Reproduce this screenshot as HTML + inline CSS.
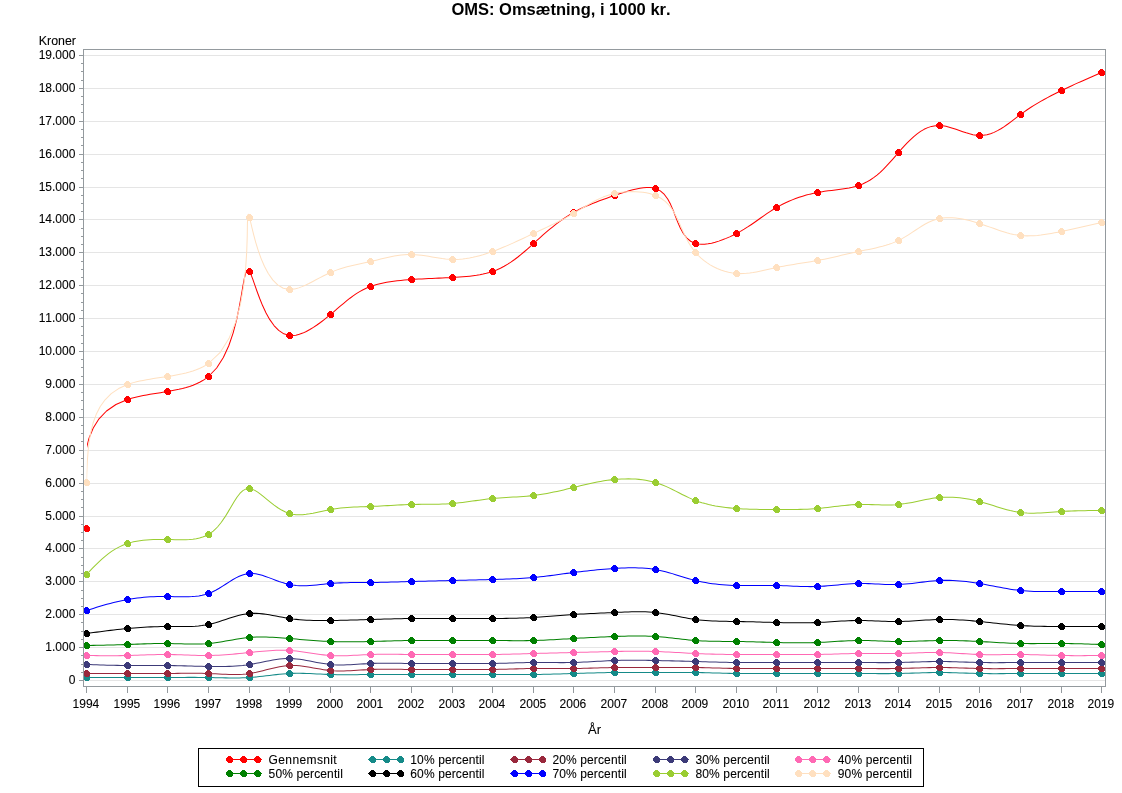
<!DOCTYPE html>
<html><head><meta charset="utf-8"><title>OMS: Omsætning</title>
<style>html,body{margin:0;padding:0;background:#fff;width:1122px;height:793px;overflow:hidden;position:relative;font-family:"Liberation Sans",sans-serif}</style>
</head><body>
<svg width="1122" height="793" viewBox="0 0 1122 793" style="position:absolute;left:0;top:0;will-change:transform;font-kerning:none">
<defs><clipPath id="pc"><rect x="84" y="50" width="1021" height="636"/></clipPath><clipPath id="lc"><rect x="86.5" y="50" width="1015" height="636"/></clipPath><clipPath id="lcr"><rect x="87" y="50" width="1014.5" height="636"/></clipPath></defs>
<text x="561" y="15" text-anchor="middle" font-family="Liberation Sans" font-weight="bold" font-size="16.5" fill="#000">OMS: Omsætning, i 1000 kr.</text>
<line x1="84" y1="680.5" x2="1105" y2="680.5" stroke="#e5e5e5" stroke-width="1"/>
<line x1="84" y1="647.5" x2="1105" y2="647.5" stroke="#e5e5e5" stroke-width="1"/>
<line x1="84" y1="614.5" x2="1105" y2="614.5" stroke="#e5e5e5" stroke-width="1"/>
<line x1="84" y1="581.5" x2="1105" y2="581.5" stroke="#e5e5e5" stroke-width="1"/>
<line x1="84" y1="548.5" x2="1105" y2="548.5" stroke="#e5e5e5" stroke-width="1"/>
<line x1="84" y1="516.5" x2="1105" y2="516.5" stroke="#e5e5e5" stroke-width="1"/>
<line x1="84" y1="483.5" x2="1105" y2="483.5" stroke="#e5e5e5" stroke-width="1"/>
<line x1="84" y1="450.5" x2="1105" y2="450.5" stroke="#e5e5e5" stroke-width="1"/>
<line x1="84" y1="417.5" x2="1105" y2="417.5" stroke="#e5e5e5" stroke-width="1"/>
<line x1="84" y1="384.5" x2="1105" y2="384.5" stroke="#e5e5e5" stroke-width="1"/>
<line x1="84" y1="351.5" x2="1105" y2="351.5" stroke="#e5e5e5" stroke-width="1"/>
<line x1="84" y1="318.5" x2="1105" y2="318.5" stroke="#e5e5e5" stroke-width="1"/>
<line x1="84" y1="285.5" x2="1105" y2="285.5" stroke="#e5e5e5" stroke-width="1"/>
<line x1="84" y1="252.5" x2="1105" y2="252.5" stroke="#e5e5e5" stroke-width="1"/>
<line x1="84" y1="219.5" x2="1105" y2="219.5" stroke="#e5e5e5" stroke-width="1"/>
<line x1="84" y1="187.5" x2="1105" y2="187.5" stroke="#e5e5e5" stroke-width="1"/>
<line x1="84" y1="154.5" x2="1105" y2="154.5" stroke="#e5e5e5" stroke-width="1"/>
<line x1="84" y1="121.5" x2="1105" y2="121.5" stroke="#e5e5e5" stroke-width="1"/>
<line x1="84" y1="88.5" x2="1105" y2="88.5" stroke="#e5e5e5" stroke-width="1"/>
<line x1="84" y1="55.5" x2="1105" y2="55.5" stroke="#e5e5e5" stroke-width="1"/>
<line x1="79" y1="680.5" x2="83" y2="680.5" stroke="#949a9e" stroke-width="1"/>
<text x="75.4" y="683.6" text-anchor="end" font-family="Liberation Sans" font-size="12" fill="#000" stroke="#000" stroke-width="0.1">0</text>
<line x1="81" y1="672.5" x2="83" y2="672.5" stroke="#949a9e" stroke-width="1"/>
<line x1="81" y1="664.5" x2="83" y2="664.5" stroke="#949a9e" stroke-width="1"/>
<line x1="81" y1="655.5" x2="83" y2="655.5" stroke="#949a9e" stroke-width="1"/>
<line x1="79" y1="647.5" x2="83" y2="647.5" stroke="#949a9e" stroke-width="1"/>
<text x="75.4" y="650.6" text-anchor="end" font-family="Liberation Sans" font-size="12" fill="#000" stroke="#000" stroke-width="0.1">1.000</text>
<line x1="81" y1="639.5" x2="83" y2="639.5" stroke="#949a9e" stroke-width="1"/>
<line x1="81" y1="631.5" x2="83" y2="631.5" stroke="#949a9e" stroke-width="1"/>
<line x1="81" y1="622.5" x2="83" y2="622.5" stroke="#949a9e" stroke-width="1"/>
<line x1="79" y1="614.5" x2="83" y2="614.5" stroke="#949a9e" stroke-width="1"/>
<text x="75.4" y="617.6" text-anchor="end" font-family="Liberation Sans" font-size="12" fill="#000" stroke="#000" stroke-width="0.1">2.000</text>
<line x1="81" y1="606.5" x2="83" y2="606.5" stroke="#949a9e" stroke-width="1"/>
<line x1="81" y1="598.5" x2="83" y2="598.5" stroke="#949a9e" stroke-width="1"/>
<line x1="81" y1="590.5" x2="83" y2="590.5" stroke="#949a9e" stroke-width="1"/>
<line x1="79" y1="581.5" x2="83" y2="581.5" stroke="#949a9e" stroke-width="1"/>
<text x="75.4" y="584.6" text-anchor="end" font-family="Liberation Sans" font-size="12" fill="#000" stroke="#000" stroke-width="0.1">3.000</text>
<line x1="81" y1="573.5" x2="83" y2="573.5" stroke="#949a9e" stroke-width="1"/>
<line x1="81" y1="565.5" x2="83" y2="565.5" stroke="#949a9e" stroke-width="1"/>
<line x1="81" y1="557.5" x2="83" y2="557.5" stroke="#949a9e" stroke-width="1"/>
<line x1="79" y1="548.5" x2="83" y2="548.5" stroke="#949a9e" stroke-width="1"/>
<text x="75.4" y="551.6" text-anchor="end" font-family="Liberation Sans" font-size="12" fill="#000" stroke="#000" stroke-width="0.1">4.000</text>
<line x1="81" y1="540.5" x2="83" y2="540.5" stroke="#949a9e" stroke-width="1"/>
<line x1="81" y1="532.5" x2="83" y2="532.5" stroke="#949a9e" stroke-width="1"/>
<line x1="81" y1="524.5" x2="83" y2="524.5" stroke="#949a9e" stroke-width="1"/>
<line x1="79" y1="516.5" x2="83" y2="516.5" stroke="#949a9e" stroke-width="1"/>
<text x="75.4" y="519.6" text-anchor="end" font-family="Liberation Sans" font-size="12" fill="#000" stroke="#000" stroke-width="0.1">5.000</text>
<line x1="81" y1="507.5" x2="83" y2="507.5" stroke="#949a9e" stroke-width="1"/>
<line x1="81" y1="499.5" x2="83" y2="499.5" stroke="#949a9e" stroke-width="1"/>
<line x1="81" y1="491.5" x2="83" y2="491.5" stroke="#949a9e" stroke-width="1"/>
<line x1="79" y1="483.5" x2="83" y2="483.5" stroke="#949a9e" stroke-width="1"/>
<text x="75.4" y="486.6" text-anchor="end" font-family="Liberation Sans" font-size="12" fill="#000" stroke="#000" stroke-width="0.1">6.000</text>
<line x1="81" y1="474.5" x2="83" y2="474.5" stroke="#949a9e" stroke-width="1"/>
<line x1="81" y1="466.5" x2="83" y2="466.5" stroke="#949a9e" stroke-width="1"/>
<line x1="81" y1="458.5" x2="83" y2="458.5" stroke="#949a9e" stroke-width="1"/>
<line x1="79" y1="450.5" x2="83" y2="450.5" stroke="#949a9e" stroke-width="1"/>
<text x="75.4" y="453.6" text-anchor="end" font-family="Liberation Sans" font-size="12" fill="#000" stroke="#000" stroke-width="0.1">7.000</text>
<line x1="81" y1="441.5" x2="83" y2="441.5" stroke="#949a9e" stroke-width="1"/>
<line x1="81" y1="433.5" x2="83" y2="433.5" stroke="#949a9e" stroke-width="1"/>
<line x1="81" y1="425.5" x2="83" y2="425.5" stroke="#949a9e" stroke-width="1"/>
<line x1="79" y1="417.5" x2="83" y2="417.5" stroke="#949a9e" stroke-width="1"/>
<text x="75.4" y="420.6" text-anchor="end" font-family="Liberation Sans" font-size="12" fill="#000" stroke="#000" stroke-width="0.1">8.000</text>
<line x1="81" y1="409.5" x2="83" y2="409.5" stroke="#949a9e" stroke-width="1"/>
<line x1="81" y1="400.5" x2="83" y2="400.5" stroke="#949a9e" stroke-width="1"/>
<line x1="81" y1="392.5" x2="83" y2="392.5" stroke="#949a9e" stroke-width="1"/>
<line x1="79" y1="384.5" x2="83" y2="384.5" stroke="#949a9e" stroke-width="1"/>
<text x="75.4" y="387.6" text-anchor="end" font-family="Liberation Sans" font-size="12" fill="#000" stroke="#000" stroke-width="0.1">9.000</text>
<line x1="81" y1="376.5" x2="83" y2="376.5" stroke="#949a9e" stroke-width="1"/>
<line x1="81" y1="367.5" x2="83" y2="367.5" stroke="#949a9e" stroke-width="1"/>
<line x1="81" y1="359.5" x2="83" y2="359.5" stroke="#949a9e" stroke-width="1"/>
<line x1="79" y1="351.5" x2="83" y2="351.5" stroke="#949a9e" stroke-width="1"/>
<text x="75.4" y="354.6" text-anchor="end" font-family="Liberation Sans" font-size="12" fill="#000" stroke="#000" stroke-width="0.1">10.000</text>
<line x1="81" y1="343.5" x2="83" y2="343.5" stroke="#949a9e" stroke-width="1"/>
<line x1="81" y1="335.5" x2="83" y2="335.5" stroke="#949a9e" stroke-width="1"/>
<line x1="81" y1="326.5" x2="83" y2="326.5" stroke="#949a9e" stroke-width="1"/>
<line x1="79" y1="318.5" x2="83" y2="318.5" stroke="#949a9e" stroke-width="1"/>
<text x="75.4" y="321.6" text-anchor="end" font-family="Liberation Sans" font-size="12" fill="#000" stroke="#000" stroke-width="0.1">11.000</text>
<line x1="81" y1="310.5" x2="83" y2="310.5" stroke="#949a9e" stroke-width="1"/>
<line x1="81" y1="302.5" x2="83" y2="302.5" stroke="#949a9e" stroke-width="1"/>
<line x1="81" y1="293.5" x2="83" y2="293.5" stroke="#949a9e" stroke-width="1"/>
<line x1="79" y1="285.5" x2="83" y2="285.5" stroke="#949a9e" stroke-width="1"/>
<text x="75.4" y="288.6" text-anchor="end" font-family="Liberation Sans" font-size="12" fill="#000" stroke="#000" stroke-width="0.1">12.000</text>
<line x1="81" y1="277.5" x2="83" y2="277.5" stroke="#949a9e" stroke-width="1"/>
<line x1="81" y1="269.5" x2="83" y2="269.5" stroke="#949a9e" stroke-width="1"/>
<line x1="81" y1="261.5" x2="83" y2="261.5" stroke="#949a9e" stroke-width="1"/>
<line x1="79" y1="252.5" x2="83" y2="252.5" stroke="#949a9e" stroke-width="1"/>
<text x="75.4" y="255.6" text-anchor="end" font-family="Liberation Sans" font-size="12" fill="#000" stroke="#000" stroke-width="0.1">13.000</text>
<line x1="81" y1="244.5" x2="83" y2="244.5" stroke="#949a9e" stroke-width="1"/>
<line x1="81" y1="236.5" x2="83" y2="236.5" stroke="#949a9e" stroke-width="1"/>
<line x1="81" y1="228.5" x2="83" y2="228.5" stroke="#949a9e" stroke-width="1"/>
<line x1="79" y1="219.5" x2="83" y2="219.5" stroke="#949a9e" stroke-width="1"/>
<text x="75.4" y="222.6" text-anchor="end" font-family="Liberation Sans" font-size="12" fill="#000" stroke="#000" stroke-width="0.1">14.000</text>
<line x1="81" y1="211.5" x2="83" y2="211.5" stroke="#949a9e" stroke-width="1"/>
<line x1="81" y1="203.5" x2="83" y2="203.5" stroke="#949a9e" stroke-width="1"/>
<line x1="81" y1="195.5" x2="83" y2="195.5" stroke="#949a9e" stroke-width="1"/>
<line x1="79" y1="187.5" x2="83" y2="187.5" stroke="#949a9e" stroke-width="1"/>
<text x="75.4" y="190.6" text-anchor="end" font-family="Liberation Sans" font-size="12" fill="#000" stroke="#000" stroke-width="0.1">15.000</text>
<line x1="81" y1="178.5" x2="83" y2="178.5" stroke="#949a9e" stroke-width="1"/>
<line x1="81" y1="170.5" x2="83" y2="170.5" stroke="#949a9e" stroke-width="1"/>
<line x1="81" y1="162.5" x2="83" y2="162.5" stroke="#949a9e" stroke-width="1"/>
<line x1="79" y1="154.5" x2="83" y2="154.5" stroke="#949a9e" stroke-width="1"/>
<text x="75.4" y="157.6" text-anchor="end" font-family="Liberation Sans" font-size="12" fill="#000" stroke="#000" stroke-width="0.1">16.000</text>
<line x1="81" y1="145.5" x2="83" y2="145.5" stroke="#949a9e" stroke-width="1"/>
<line x1="81" y1="137.5" x2="83" y2="137.5" stroke="#949a9e" stroke-width="1"/>
<line x1="81" y1="129.5" x2="83" y2="129.5" stroke="#949a9e" stroke-width="1"/>
<line x1="79" y1="121.5" x2="83" y2="121.5" stroke="#949a9e" stroke-width="1"/>
<text x="75.4" y="124.6" text-anchor="end" font-family="Liberation Sans" font-size="12" fill="#000" stroke="#000" stroke-width="0.1">17.000</text>
<line x1="81" y1="112.5" x2="83" y2="112.5" stroke="#949a9e" stroke-width="1"/>
<line x1="81" y1="104.5" x2="83" y2="104.5" stroke="#949a9e" stroke-width="1"/>
<line x1="81" y1="96.5" x2="83" y2="96.5" stroke="#949a9e" stroke-width="1"/>
<line x1="79" y1="88.5" x2="83" y2="88.5" stroke="#949a9e" stroke-width="1"/>
<text x="75.4" y="91.6" text-anchor="end" font-family="Liberation Sans" font-size="12" fill="#000" stroke="#000" stroke-width="0.1">18.000</text>
<line x1="81" y1="80.5" x2="83" y2="80.5" stroke="#949a9e" stroke-width="1"/>
<line x1="81" y1="71.5" x2="83" y2="71.5" stroke="#949a9e" stroke-width="1"/>
<line x1="81" y1="63.5" x2="83" y2="63.5" stroke="#949a9e" stroke-width="1"/>
<line x1="79" y1="55.5" x2="83" y2="55.5" stroke="#949a9e" stroke-width="1"/>
<text x="75.4" y="58.6" text-anchor="end" font-family="Liberation Sans" font-size="12" fill="#000" stroke="#000" stroke-width="0.1">19.000</text>
<line x1="86.5" y1="687" x2="86.5" y2="693" stroke="#949a9e" stroke-width="1"/>
<text x="85.9" y="708" text-anchor="middle" font-family="Liberation Sans" font-size="12" fill="#000" stroke="#000" stroke-width="0.1">1994</text>
<line x1="127.5" y1="687" x2="127.5" y2="693" stroke="#949a9e" stroke-width="1"/>
<text x="126.9" y="708" text-anchor="middle" font-family="Liberation Sans" font-size="12" fill="#000" stroke="#000" stroke-width="0.1">1995</text>
<line x1="167.5" y1="687" x2="167.5" y2="693" stroke="#949a9e" stroke-width="1"/>
<text x="166.9" y="708" text-anchor="middle" font-family="Liberation Sans" font-size="12" fill="#000" stroke="#000" stroke-width="0.1">1996</text>
<line x1="208.5" y1="687" x2="208.5" y2="693" stroke="#949a9e" stroke-width="1"/>
<text x="207.9" y="708" text-anchor="middle" font-family="Liberation Sans" font-size="12" fill="#000" stroke="#000" stroke-width="0.1">1997</text>
<line x1="249.5" y1="687" x2="249.5" y2="693" stroke="#949a9e" stroke-width="1"/>
<text x="248.9" y="708" text-anchor="middle" font-family="Liberation Sans" font-size="12" fill="#000" stroke="#000" stroke-width="0.1">1998</text>
<line x1="289.5" y1="687" x2="289.5" y2="693" stroke="#949a9e" stroke-width="1"/>
<text x="288.9" y="708" text-anchor="middle" font-family="Liberation Sans" font-size="12" fill="#000" stroke="#000" stroke-width="0.1">1999</text>
<line x1="330.5" y1="687" x2="330.5" y2="693" stroke="#949a9e" stroke-width="1"/>
<text x="329.9" y="708" text-anchor="middle" font-family="Liberation Sans" font-size="12" fill="#000" stroke="#000" stroke-width="0.1">2000</text>
<line x1="370.5" y1="687" x2="370.5" y2="693" stroke="#949a9e" stroke-width="1"/>
<text x="369.9" y="708" text-anchor="middle" font-family="Liberation Sans" font-size="12" fill="#000" stroke="#000" stroke-width="0.1">2001</text>
<line x1="411.5" y1="687" x2="411.5" y2="693" stroke="#949a9e" stroke-width="1"/>
<text x="410.9" y="708" text-anchor="middle" font-family="Liberation Sans" font-size="12" fill="#000" stroke="#000" stroke-width="0.1">2002</text>
<line x1="452.5" y1="687" x2="452.5" y2="693" stroke="#949a9e" stroke-width="1"/>
<text x="451.9" y="708" text-anchor="middle" font-family="Liberation Sans" font-size="12" fill="#000" stroke="#000" stroke-width="0.1">2003</text>
<line x1="492.5" y1="687" x2="492.5" y2="693" stroke="#949a9e" stroke-width="1"/>
<text x="491.9" y="708" text-anchor="middle" font-family="Liberation Sans" font-size="12" fill="#000" stroke="#000" stroke-width="0.1">2004</text>
<line x1="533.5" y1="687" x2="533.5" y2="693" stroke="#949a9e" stroke-width="1"/>
<text x="532.9" y="708" text-anchor="middle" font-family="Liberation Sans" font-size="12" fill="#000" stroke="#000" stroke-width="0.1">2005</text>
<line x1="573.5" y1="687" x2="573.5" y2="693" stroke="#949a9e" stroke-width="1"/>
<text x="572.9" y="708" text-anchor="middle" font-family="Liberation Sans" font-size="12" fill="#000" stroke="#000" stroke-width="0.1">2006</text>
<line x1="614.5" y1="687" x2="614.5" y2="693" stroke="#949a9e" stroke-width="1"/>
<text x="613.9" y="708" text-anchor="middle" font-family="Liberation Sans" font-size="12" fill="#000" stroke="#000" stroke-width="0.1">2007</text>
<line x1="655.5" y1="687" x2="655.5" y2="693" stroke="#949a9e" stroke-width="1"/>
<text x="654.9" y="708" text-anchor="middle" font-family="Liberation Sans" font-size="12" fill="#000" stroke="#000" stroke-width="0.1">2008</text>
<line x1="695.5" y1="687" x2="695.5" y2="693" stroke="#949a9e" stroke-width="1"/>
<text x="694.9" y="708" text-anchor="middle" font-family="Liberation Sans" font-size="12" fill="#000" stroke="#000" stroke-width="0.1">2009</text>
<line x1="736.5" y1="687" x2="736.5" y2="693" stroke="#949a9e" stroke-width="1"/>
<text x="735.9" y="708" text-anchor="middle" font-family="Liberation Sans" font-size="12" fill="#000" stroke="#000" stroke-width="0.1">2010</text>
<line x1="776.5" y1="687" x2="776.5" y2="693" stroke="#949a9e" stroke-width="1"/>
<text x="775.9" y="708" text-anchor="middle" font-family="Liberation Sans" font-size="12" fill="#000" stroke="#000" stroke-width="0.1">2011</text>
<line x1="817.5" y1="687" x2="817.5" y2="693" stroke="#949a9e" stroke-width="1"/>
<text x="816.9" y="708" text-anchor="middle" font-family="Liberation Sans" font-size="12" fill="#000" stroke="#000" stroke-width="0.1">2012</text>
<line x1="858.5" y1="687" x2="858.5" y2="693" stroke="#949a9e" stroke-width="1"/>
<text x="857.9" y="708" text-anchor="middle" font-family="Liberation Sans" font-size="12" fill="#000" stroke="#000" stroke-width="0.1">2013</text>
<line x1="898.5" y1="687" x2="898.5" y2="693" stroke="#949a9e" stroke-width="1"/>
<text x="897.9" y="708" text-anchor="middle" font-family="Liberation Sans" font-size="12" fill="#000" stroke="#000" stroke-width="0.1">2014</text>
<line x1="939.5" y1="687" x2="939.5" y2="693" stroke="#949a9e" stroke-width="1"/>
<text x="938.9" y="708" text-anchor="middle" font-family="Liberation Sans" font-size="12" fill="#000" stroke="#000" stroke-width="0.1">2015</text>
<line x1="979.5" y1="687" x2="979.5" y2="693" stroke="#949a9e" stroke-width="1"/>
<text x="978.9" y="708" text-anchor="middle" font-family="Liberation Sans" font-size="12" fill="#000" stroke="#000" stroke-width="0.1">2016</text>
<line x1="1020.5" y1="687" x2="1020.5" y2="693" stroke="#949a9e" stroke-width="1"/>
<text x="1019.9" y="708" text-anchor="middle" font-family="Liberation Sans" font-size="12" fill="#000" stroke="#000" stroke-width="0.1">2017</text>
<line x1="1061.5" y1="687" x2="1061.5" y2="693" stroke="#949a9e" stroke-width="1"/>
<text x="1060.9" y="708" text-anchor="middle" font-family="Liberation Sans" font-size="12" fill="#000" stroke="#000" stroke-width="0.1">2018</text>
<line x1="1101.5" y1="687" x2="1101.5" y2="693" stroke="#949a9e" stroke-width="1"/>
<text x="1100.9" y="708" text-anchor="middle" font-family="Liberation Sans" font-size="12" fill="#000" stroke="#000" stroke-width="0.1">2019</text>
<text x="594.5" y="734" text-anchor="middle" font-family="Liberation Sans" font-size="13" fill="#000" stroke="#000" stroke-width="0.1">År</text>
<text x="76" y="45" text-anchor="end" font-family="Liberation Sans" font-size="13" textLength="37.2" lengthAdjust="spacingAndGlyphs" fill="#000" stroke="#000" stroke-width="0.1">Kroner</text>
<g clip-path="url(#pc)">
<path clip-path="url(#lcr)" d="M86.50,528.50 L85.32,514.50 L84.33,500.63 L83.72,487.04 L83.70,473.85 L84.45,461.21 L86.16,449.26 L89.03,438.12 L93.25,427.94 L99.01,418.85 L106.52,410.99 L115.95,404.49 L127.50,399.50 L130.46,398.58 L133.52,397.74 L136.69,396.96 L139.93,396.25 L143.25,395.58 L146.63,394.95 L150.06,394.35 L153.53,393.78 L157.01,393.21 L160.51,392.65 L164.01,392.08 L167.50,391.50 L171.33,390.82 L175.12,390.10 L178.85,389.32 L182.53,388.45 L186.13,387.48 L189.65,386.40 L193.08,385.18 L196.41,383.81 L199.63,382.28 L202.72,380.56 L205.68,378.64 L208.50,376.50 L216.65,367.99 L223.35,357.54 L228.77,345.71 L233.10,333.09 L236.50,320.23 L239.15,307.71 L241.25,296.09 L242.96,285.95 L244.46,277.85 L245.93,272.36 L247.55,270.05 L249.50,271.50 L251.01,274.61 L252.76,279.18 L254.77,284.91 L257.08,291.48 L259.71,298.55 L262.69,305.82 L266.05,312.96 L269.81,319.65 L274.01,325.56 L278.68,330.39 L283.83,333.81 L289.50,335.50 L292.66,335.60 L295.94,335.20 L299.32,334.35 L302.78,333.09 L306.30,331.48 L309.84,329.56 L313.40,327.39 L316.94,325.02 L320.45,322.50 L323.89,319.87 L327.25,317.19 L330.50,314.50 L333.96,311.58 L337.28,308.72 L340.51,305.95 L343.68,303.27 L346.82,300.69 L349.95,298.22 L353.11,295.89 L356.34,293.69 L359.66,291.64 L363.10,289.75 L366.71,288.03 L370.50,286.50 L373.52,285.46 L376.66,284.53 L379.90,283.70 L383.23,282.96 L386.63,282.31 L390.10,281.73 L393.62,281.22 L397.17,280.78 L400.75,280.39 L404.34,280.06 L407.93,279.76 L411.50,279.50 L414.96,279.27 L418.41,279.07 L421.83,278.89 L425.24,278.72 L428.64,278.56 L432.03,278.42 L435.43,278.27 L438.82,278.13 L442.22,277.99 L445.63,277.84 L449.06,277.68 L452.50,277.50 L455.94,277.31 L459.40,277.09 L462.85,276.83 L466.30,276.54 L469.74,276.18 L473.14,275.77 L476.52,275.29 L479.84,274.73 L483.11,274.07 L486.32,273.32 L489.45,272.47 L492.50,271.50 L496.54,269.97 L500.42,268.23 L504.16,266.29 L507.76,264.18 L511.24,261.91 L514.62,259.52 L517.90,257.01 L521.11,254.41 L524.27,251.74 L527.37,249.02 L530.44,246.26 L533.50,243.50 L536.67,240.64 L539.85,237.80 L543.04,234.98 L546.24,232.21 L549.48,229.48 L552.75,226.81 L556.06,224.21 L559.42,221.68 L562.84,219.24 L566.32,216.88 L569.87,214.64 L573.50,212.50 L576.50,210.86 L579.56,209.29 L582.68,207.78 L585.88,206.32 L589.14,204.91 L592.49,203.53 L595.92,202.18 L599.45,200.84 L603.06,199.52 L606.77,198.19 L610.58,196.85 L614.50,195.50 L618.09,194.27 L621.74,193.06 L625.42,191.89 L629.11,190.79 L632.77,189.79 L636.39,188.94 L639.93,188.26 L643.36,187.77 L646.66,187.52 L649.81,187.54 L652.76,187.86 L655.50,188.50 L660.34,190.86 L664.35,194.46 L667.70,199.04 L670.56,204.36 L673.08,210.16 L675.44,216.21 L677.80,222.24 L680.33,228.01 L683.20,233.27 L686.58,237.77 L690.62,241.26 L695.50,243.50 L698.34,244.08 L701.40,244.31 L704.64,244.21 L708.04,243.81 L711.56,243.15 L715.16,242.24 L718.80,241.13 L722.46,239.84 L726.09,238.40 L729.67,236.85 L733.15,235.20 L736.50,233.50 L740.44,231.34 L744.16,229.15 L747.69,226.94 L751.07,224.71 L754.33,222.47 L757.50,220.24 L760.62,218.02 L763.71,215.83 L766.81,213.67 L769.95,211.56 L773.17,209.50 L776.50,207.50 L779.45,205.85 L782.51,204.25 L785.65,202.72 L788.89,201.26 L792.21,199.86 L795.62,198.55 L799.10,197.31 L802.65,196.16 L806.27,195.10 L809.96,194.13 L813.70,193.26 L817.50,192.50 L821.03,191.89 L824.59,191.35 L828.16,190.86 L831.73,190.40 L835.29,189.96 L838.81,189.51 L842.29,189.02 L845.71,188.49 L849.06,187.90 L852.31,187.21 L855.47,186.42 L858.50,185.50 L862.63,183.93 L866.51,182.08 L870.18,179.97 L873.66,177.62 L876.99,175.05 L880.20,172.27 L883.31,169.31 L886.36,166.19 L889.37,162.93 L892.38,159.55 L895.41,156.06 L898.50,152.50 L901.39,149.19 L904.36,145.89 L907.42,142.65 L910.56,139.52 L913.79,136.57 L917.12,133.85 L920.56,131.42 L924.10,129.32 L927.77,127.63 L931.55,126.39 L935.46,125.66 L939.50,125.50 L942.69,125.78 L945.94,126.37 L949.25,127.19 L952.60,128.20 L955.99,129.33 L959.39,130.52 L962.80,131.71 L966.20,132.84 L969.59,133.84 L972.94,134.66 L976.25,135.23 L979.50,135.50 L983.27,135.36 L986.95,134.75 L990.54,133.73 L994.07,132.35 L997.52,130.66 L1000.92,128.71 L1004.27,126.56 L1007.57,124.25 L1010.84,121.84 L1014.08,119.37 L1017.30,116.91 L1020.50,114.50 L1023.85,112.07 L1027.21,109.75 L1030.56,107.53 L1033.92,105.39 L1037.29,103.34 L1040.67,101.36 L1044.08,99.44 L1047.50,97.58 L1050.95,95.76 L1054.43,93.98 L1057.95,92.23 L1061.50,90.50 L1064.71,88.97 L1067.96,87.44 L1071.23,85.92 L1074.53,84.41 L1077.85,82.91 L1081.19,81.41 L1084.55,79.92 L1087.92,78.43 L1091.31,76.94 L1094.70,75.46 L1098.10,73.98 L1101.50,72.50" fill="none" stroke="#ff0000" stroke-width="1.02" stroke-linejoin="round"/>
<path d="M85,525h3v1h-3zM84,526h5v1h-5zM83,527h7v1h-7zM83,528h7v1h-7zM83,529h7v1h-7zM84,530h6v1h-6zM85,531h4v1h-4zM126,396h3v1h-3zM125,397h5v1h-5zM124,398h7v1h-7zM124,399h7v1h-7zM124,400h7v1h-7zM125,401h6v1h-6zM126,402h4v1h-4zM166,388h3v1h-3zM165,389h5v1h-5zM164,390h7v1h-7zM164,391h7v1h-7zM164,392h7v1h-7zM165,393h6v1h-6zM166,394h4v1h-4zM207,373h3v1h-3zM206,374h5v1h-5zM205,375h7v1h-7zM205,376h7v1h-7zM205,377h7v1h-7zM206,378h6v1h-6zM207,379h4v1h-4zM248,268h3v1h-3zM247,269h5v1h-5zM246,270h7v1h-7zM246,271h7v1h-7zM246,272h7v1h-7zM247,273h6v1h-6zM248,274h4v1h-4zM288,332h3v1h-3zM287,333h5v1h-5zM286,334h7v1h-7zM286,335h7v1h-7zM286,336h7v1h-7zM287,337h6v1h-6zM288,338h4v1h-4zM329,311h3v1h-3zM328,312h5v1h-5zM327,313h7v1h-7zM327,314h7v1h-7zM327,315h7v1h-7zM328,316h6v1h-6zM329,317h4v1h-4zM369,283h3v1h-3zM368,284h5v1h-5zM367,285h7v1h-7zM367,286h7v1h-7zM367,287h7v1h-7zM368,288h6v1h-6zM369,289h4v1h-4zM410,276h3v1h-3zM409,277h5v1h-5zM408,278h7v1h-7zM408,279h7v1h-7zM408,280h7v1h-7zM409,281h6v1h-6zM410,282h4v1h-4zM451,274h3v1h-3zM450,275h5v1h-5zM449,276h7v1h-7zM449,277h7v1h-7zM449,278h7v1h-7zM450,279h6v1h-6zM451,280h4v1h-4zM491,268h3v1h-3zM490,269h5v1h-5zM489,270h7v1h-7zM489,271h7v1h-7zM489,272h7v1h-7zM490,273h6v1h-6zM491,274h4v1h-4zM532,240h3v1h-3zM531,241h5v1h-5zM530,242h7v1h-7zM530,243h7v1h-7zM530,244h7v1h-7zM531,245h6v1h-6zM532,246h4v1h-4zM572,209h3v1h-3zM571,210h5v1h-5zM570,211h7v1h-7zM570,212h7v1h-7zM570,213h7v1h-7zM571,214h6v1h-6zM572,215h4v1h-4zM613,192h3v1h-3zM612,193h5v1h-5zM611,194h7v1h-7zM611,195h7v1h-7zM611,196h7v1h-7zM612,197h6v1h-6zM613,198h4v1h-4zM654,185h3v1h-3zM653,186h5v1h-5zM652,187h7v1h-7zM652,188h7v1h-7zM652,189h7v1h-7zM653,190h6v1h-6zM654,191h4v1h-4zM694,240h3v1h-3zM693,241h5v1h-5zM692,242h7v1h-7zM692,243h7v1h-7zM692,244h7v1h-7zM693,245h6v1h-6zM694,246h4v1h-4zM735,230h3v1h-3zM734,231h5v1h-5zM733,232h7v1h-7zM733,233h7v1h-7zM733,234h7v1h-7zM734,235h6v1h-6zM735,236h4v1h-4zM775,204h3v1h-3zM774,205h5v1h-5zM773,206h7v1h-7zM773,207h7v1h-7zM773,208h7v1h-7zM774,209h6v1h-6zM775,210h4v1h-4zM816,189h3v1h-3zM815,190h5v1h-5zM814,191h7v1h-7zM814,192h7v1h-7zM814,193h7v1h-7zM815,194h6v1h-6zM816,195h4v1h-4zM857,182h3v1h-3zM856,183h5v1h-5zM855,184h7v1h-7zM855,185h7v1h-7zM855,186h7v1h-7zM856,187h6v1h-6zM857,188h4v1h-4zM897,149h3v1h-3zM896,150h5v1h-5zM895,151h7v1h-7zM895,152h7v1h-7zM895,153h7v1h-7zM896,154h6v1h-6zM897,155h4v1h-4zM938,122h3v1h-3zM937,123h5v1h-5zM936,124h7v1h-7zM936,125h7v1h-7zM936,126h7v1h-7zM937,127h6v1h-6zM938,128h4v1h-4zM978,132h3v1h-3zM977,133h5v1h-5zM976,134h7v1h-7zM976,135h7v1h-7zM976,136h7v1h-7zM977,137h6v1h-6zM978,138h4v1h-4zM1019,111h3v1h-3zM1018,112h5v1h-5zM1017,113h7v1h-7zM1017,114h7v1h-7zM1017,115h7v1h-7zM1018,116h6v1h-6zM1019,117h4v1h-4zM1060,87h3v1h-3zM1059,88h5v1h-5zM1058,89h7v1h-7zM1058,90h7v1h-7zM1058,91h7v1h-7zM1059,92h6v1h-6zM1060,93h4v1h-4zM1100,69h3v1h-3zM1099,70h5v1h-5zM1098,71h7v1h-7zM1098,72h7v1h-7zM1098,73h7v1h-7zM1099,74h6v1h-6zM1100,75h4v1h-4z" fill="#ff0000" shape-rendering="crispEdges"/>
<path clip-path="url(#lc)" d="M86.50,677.50 L89.92,677.50 L93.33,677.50 L96.75,677.49 L100.17,677.49 L103.58,677.49 L107.00,677.49 L110.42,677.49 L113.83,677.49 L117.25,677.49 L120.67,677.49 L124.08,677.50 L127.50,677.50 L130.83,677.51 L134.17,677.51 L137.50,677.52 L140.84,677.52 L144.17,677.53 L147.50,677.53 L150.84,677.53 L154.17,677.53 L157.50,677.53 L160.84,677.52 L164.17,677.51 L167.50,677.50 L170.92,677.48 L174.33,677.46 L177.74,677.44 L181.16,677.42 L184.57,677.40 L187.99,677.38 L191.41,677.38 L194.82,677.38 L198.24,677.39 L201.66,677.41 L205.08,677.45 L208.50,677.50 L211.92,677.57 L215.35,677.65 L218.77,677.73 L222.19,677.81 L225.62,677.88 L229.04,677.94 L232.46,677.97 L235.87,677.96 L239.29,677.92 L242.70,677.84 L246.10,677.70 L249.50,677.50 L252.84,677.24 L256.18,676.93 L259.51,676.58 L262.84,676.20 L266.17,675.81 L269.50,675.40 L272.83,675.00 L276.16,674.62 L279.49,674.27 L282.82,673.96 L286.16,673.70 L289.50,673.50 L292.90,673.37 L296.30,673.32 L299.71,673.32 L303.13,673.37 L306.54,673.47 L309.96,673.59 L313.38,673.74 L316.81,673.90 L320.23,674.07 L323.65,674.23 L327.08,674.38 L330.50,674.50 L333.84,674.59 L337.17,674.66 L340.51,674.70 L343.84,674.72 L347.17,674.72 L350.51,674.70 L353.84,674.68 L357.17,674.65 L360.50,674.61 L363.84,674.57 L367.17,674.53 L370.50,674.50 L373.92,674.47 L377.33,674.46 L380.75,674.44 L384.16,674.44 L387.58,674.44 L391.00,674.44 L394.41,674.45 L397.83,674.46 L401.25,674.47 L404.67,674.48 L408.08,674.49 L411.50,674.50 L414.92,674.51 L418.33,674.51 L421.75,674.52 L425.17,674.52 L428.58,674.52 L432.00,674.52 L435.42,674.52 L438.83,674.52 L442.25,674.51 L445.67,674.51 L449.08,674.50 L452.50,674.50 L455.83,674.50 L459.17,674.49 L462.50,674.49 L465.83,674.48 L469.17,674.48 L472.50,674.48 L475.83,674.48 L479.17,674.48 L482.50,674.48 L485.83,674.48 L489.17,674.49 L492.50,674.50 L495.92,674.51 L499.33,674.53 L502.75,674.54 L506.17,674.56 L509.58,674.57 L513.00,674.58 L516.42,674.58 L519.84,674.58 L523.25,674.57 L526.67,674.56 L530.08,674.53 L533.50,674.50 L536.83,674.46 L540.17,674.40 L543.50,674.34 L546.84,674.26 L550.17,674.18 L553.50,674.10 L556.84,674.01 L560.17,673.91 L563.50,673.81 L566.83,673.71 L570.17,673.61 L573.50,673.50 L576.92,673.39 L580.33,673.29 L583.75,673.18 L587.16,673.08 L590.58,672.98 L594.00,672.89 L597.41,672.80 L600.83,672.72 L604.25,672.65 L607.67,672.59 L611.08,672.54 L614.50,672.50 L617.92,672.47 L621.33,672.45 L624.75,672.44 L628.16,672.44 L631.58,672.45 L635.00,672.45 L638.41,672.46 L641.83,672.48 L645.25,672.49 L648.67,672.50 L652.08,672.50 L655.50,672.50 L658.83,672.49 L662.17,672.48 L665.50,672.47 L668.84,672.45 L672.17,672.43 L675.50,672.42 L678.84,672.41 L682.17,672.41 L685.50,672.42 L688.84,672.43 L692.17,672.46 L695.50,672.50 L698.92,672.56 L702.33,672.63 L705.75,672.71 L709.17,672.80 L712.58,672.90 L716.00,673.00 L719.42,673.09 L722.83,673.19 L726.25,673.28 L729.67,673.37 L733.08,673.44 L736.50,673.50 L739.83,673.54 L743.16,673.57 L746.50,673.59 L749.83,673.60 L753.16,673.60 L756.50,673.60 L759.83,673.58 L763.17,673.57 L766.50,673.55 L769.83,673.53 L773.17,673.51 L776.50,673.50 L779.92,673.49 L783.33,673.48 L786.75,673.48 L790.17,673.48 L793.58,673.48 L797.00,673.48 L800.42,673.49 L803.83,673.49 L807.25,673.49 L810.67,673.50 L814.08,673.50 L817.50,673.50 L820.92,673.50 L824.33,673.49 L827.75,673.49 L831.17,673.48 L834.58,673.48 L838.00,673.47 L841.42,673.47 L844.83,673.47 L848.25,673.47 L851.67,673.48 L855.08,673.49 L858.50,673.50 L861.83,673.52 L865.17,673.54 L868.50,673.56 L871.83,673.59 L875.17,673.61 L878.50,673.62 L881.84,673.63 L885.17,673.63 L888.50,673.62 L891.83,673.59 L895.17,673.56 L898.50,673.50 L901.92,673.42 L905.33,673.33 L908.75,673.23 L912.17,673.12 L915.59,673.01 L919.00,672.90 L922.42,672.79 L925.84,672.70 L929.25,672.62 L932.67,672.55 L936.08,672.51 L939.50,672.50 L942.83,672.52 L946.17,672.56 L949.50,672.62 L952.83,672.70 L956.16,672.80 L959.50,672.90 L962.83,673.01 L966.16,673.12 L969.50,673.23 L972.83,673.33 L976.17,673.42 L979.50,673.50 L982.92,673.56 L986.33,673.60 L989.75,673.63 L993.16,673.64 L996.58,673.64 L1000.00,673.63 L1003.42,673.62 L1006.83,673.59 L1010.25,673.57 L1013.67,673.54 L1017.08,673.52 L1020.50,673.50 L1023.92,673.48 L1027.33,673.47 L1030.75,673.47 L1034.17,673.46 L1037.58,673.46 L1041.00,673.46 L1044.42,673.47 L1047.83,673.47 L1051.25,673.48 L1054.67,673.49 L1058.08,673.49 L1061.50,673.50 L1064.83,673.50 L1068.17,673.51 L1071.50,673.51 L1074.83,673.51 L1078.17,673.51 L1081.50,673.51 L1084.83,673.51 L1088.17,673.51 L1091.50,673.51 L1094.83,673.50 L1098.17,673.50 L1101.50,673.50" fill="none" stroke="#158a88" stroke-width="1.02" stroke-linejoin="round"/>
<path d="M85,674h3v1h-3zM84,675h5v1h-5zM83,676h7v1h-7zM83,677h7v1h-7zM83,678h7v1h-7zM84,679h6v1h-6zM85,680h4v1h-4zM126,674h3v1h-3zM125,675h5v1h-5zM124,676h7v1h-7zM124,677h7v1h-7zM124,678h7v1h-7zM125,679h6v1h-6zM126,680h4v1h-4zM166,674h3v1h-3zM165,675h5v1h-5zM164,676h7v1h-7zM164,677h7v1h-7zM164,678h7v1h-7zM165,679h6v1h-6zM166,680h4v1h-4zM207,674h3v1h-3zM206,675h5v1h-5zM205,676h7v1h-7zM205,677h7v1h-7zM205,678h7v1h-7zM206,679h6v1h-6zM207,680h4v1h-4zM248,674h3v1h-3zM247,675h5v1h-5zM246,676h7v1h-7zM246,677h7v1h-7zM246,678h7v1h-7zM247,679h6v1h-6zM248,680h4v1h-4zM288,670h3v1h-3zM287,671h5v1h-5zM286,672h7v1h-7zM286,673h7v1h-7zM286,674h7v1h-7zM287,675h6v1h-6zM288,676h4v1h-4zM329,671h3v1h-3zM328,672h5v1h-5zM327,673h7v1h-7zM327,674h7v1h-7zM327,675h7v1h-7zM328,676h6v1h-6zM329,677h4v1h-4zM369,671h3v1h-3zM368,672h5v1h-5zM367,673h7v1h-7zM367,674h7v1h-7zM367,675h7v1h-7zM368,676h6v1h-6zM369,677h4v1h-4zM410,671h3v1h-3zM409,672h5v1h-5zM408,673h7v1h-7zM408,674h7v1h-7zM408,675h7v1h-7zM409,676h6v1h-6zM410,677h4v1h-4zM451,671h3v1h-3zM450,672h5v1h-5zM449,673h7v1h-7zM449,674h7v1h-7zM449,675h7v1h-7zM450,676h6v1h-6zM451,677h4v1h-4zM491,671h3v1h-3zM490,672h5v1h-5zM489,673h7v1h-7zM489,674h7v1h-7zM489,675h7v1h-7zM490,676h6v1h-6zM491,677h4v1h-4zM532,671h3v1h-3zM531,672h5v1h-5zM530,673h7v1h-7zM530,674h7v1h-7zM530,675h7v1h-7zM531,676h6v1h-6zM532,677h4v1h-4zM572,670h3v1h-3zM571,671h5v1h-5zM570,672h7v1h-7zM570,673h7v1h-7zM570,674h7v1h-7zM571,675h6v1h-6zM572,676h4v1h-4zM613,669h3v1h-3zM612,670h5v1h-5zM611,671h7v1h-7zM611,672h7v1h-7zM611,673h7v1h-7zM612,674h6v1h-6zM613,675h4v1h-4zM654,669h3v1h-3zM653,670h5v1h-5zM652,671h7v1h-7zM652,672h7v1h-7zM652,673h7v1h-7zM653,674h6v1h-6zM654,675h4v1h-4zM694,669h3v1h-3zM693,670h5v1h-5zM692,671h7v1h-7zM692,672h7v1h-7zM692,673h7v1h-7zM693,674h6v1h-6zM694,675h4v1h-4zM735,670h3v1h-3zM734,671h5v1h-5zM733,672h7v1h-7zM733,673h7v1h-7zM733,674h7v1h-7zM734,675h6v1h-6zM735,676h4v1h-4zM775,670h3v1h-3zM774,671h5v1h-5zM773,672h7v1h-7zM773,673h7v1h-7zM773,674h7v1h-7zM774,675h6v1h-6zM775,676h4v1h-4zM816,670h3v1h-3zM815,671h5v1h-5zM814,672h7v1h-7zM814,673h7v1h-7zM814,674h7v1h-7zM815,675h6v1h-6zM816,676h4v1h-4zM857,670h3v1h-3zM856,671h5v1h-5zM855,672h7v1h-7zM855,673h7v1h-7zM855,674h7v1h-7zM856,675h6v1h-6zM857,676h4v1h-4zM897,670h3v1h-3zM896,671h5v1h-5zM895,672h7v1h-7zM895,673h7v1h-7zM895,674h7v1h-7zM896,675h6v1h-6zM897,676h4v1h-4zM938,669h3v1h-3zM937,670h5v1h-5zM936,671h7v1h-7zM936,672h7v1h-7zM936,673h7v1h-7zM937,674h6v1h-6zM938,675h4v1h-4zM978,670h3v1h-3zM977,671h5v1h-5zM976,672h7v1h-7zM976,673h7v1h-7zM976,674h7v1h-7zM977,675h6v1h-6zM978,676h4v1h-4zM1019,670h3v1h-3zM1018,671h5v1h-5zM1017,672h7v1h-7zM1017,673h7v1h-7zM1017,674h7v1h-7zM1018,675h6v1h-6zM1019,676h4v1h-4zM1060,670h3v1h-3zM1059,671h5v1h-5zM1058,672h7v1h-7zM1058,673h7v1h-7zM1058,674h7v1h-7zM1059,675h6v1h-6zM1060,676h4v1h-4zM1100,670h3v1h-3zM1099,671h5v1h-5zM1098,672h7v1h-7zM1098,673h7v1h-7zM1098,674h7v1h-7zM1099,675h6v1h-6zM1100,676h4v1h-4z" fill="#158a88" shape-rendering="crispEdges"/>
<path clip-path="url(#lc)" d="M86.50,673.50 L89.92,673.49 L93.33,673.49 L96.75,673.49 L100.16,673.48 L103.58,673.48 L107.00,673.48 L110.41,673.48 L113.83,673.48 L117.25,673.48 L120.66,673.48 L124.08,673.49 L127.50,673.50 L130.83,673.51 L134.17,673.52 L137.51,673.54 L140.84,673.55 L144.17,673.56 L147.51,673.57 L150.84,673.57 L154.18,673.57 L157.51,673.56 L160.84,673.55 L164.17,673.53 L167.50,673.50 L170.91,673.46 L174.32,673.42 L177.73,673.37 L181.14,673.32 L184.55,673.28 L187.97,673.25 L191.38,673.23 L194.80,673.24 L198.22,673.26 L201.64,673.31 L205.07,673.39 L208.50,673.50 L211.94,673.65 L215.38,673.82 L218.82,674.00 L222.26,674.17 L225.70,674.32 L229.13,674.43 L232.56,674.49 L235.97,674.49 L239.38,674.40 L242.77,674.22 L246.14,673.92 L249.50,673.50 L252.88,672.94 L256.24,672.26 L259.58,671.50 L262.91,670.67 L266.24,669.82 L269.56,668.97 L272.87,668.15 L276.19,667.39 L279.50,666.71 L282.83,666.15 L286.16,665.74 L289.50,665.50 L292.86,665.45 L296.24,665.58 L299.63,665.86 L303.03,666.26 L306.44,666.75 L309.85,667.31 L313.28,667.91 L316.71,668.52 L320.15,669.11 L323.60,669.65 L327.05,670.13 L330.50,670.50 L333.83,670.75 L337.15,670.89 L340.48,670.94 L343.82,670.91 L347.15,670.82 L350.48,670.68 L353.82,670.50 L357.15,670.29 L360.49,670.08 L363.83,669.87 L367.16,669.67 L370.50,669.50 L373.92,669.37 L377.34,669.28 L380.75,669.22 L384.17,669.20 L387.59,669.20 L391.00,669.22 L394.42,669.25 L397.84,669.30 L401.25,669.35 L404.67,669.41 L408.08,669.46 L411.50,669.50 L414.92,669.53 L418.33,669.55 L421.75,669.56 L425.17,669.56 L428.58,669.56 L432.00,669.55 L435.42,669.54 L438.83,669.53 L442.25,669.51 L445.67,669.50 L449.08,669.50 L452.50,669.50 L455.83,669.51 L459.17,669.52 L462.50,669.54 L465.84,669.55 L469.17,669.57 L472.50,669.58 L475.84,669.59 L479.17,669.60 L482.50,669.59 L485.84,669.57 L489.17,669.54 L492.50,669.50 L495.92,669.44 L499.33,669.36 L502.75,669.28 L506.17,669.18 L509.58,669.08 L513.00,668.98 L516.42,668.88 L519.83,668.78 L523.25,668.69 L526.67,668.61 L530.08,668.55 L533.50,668.50 L536.83,668.47 L540.17,668.46 L543.50,668.46 L546.83,668.47 L550.17,668.48 L553.50,668.50 L556.83,668.52 L560.17,668.53 L563.50,668.54 L566.83,668.54 L570.17,668.53 L573.50,668.50 L576.92,668.45 L580.33,668.39 L583.75,668.31 L587.17,668.22 L590.58,668.12 L594.00,668.02 L597.42,667.92 L600.83,667.82 L604.25,667.72 L607.67,667.64 L611.08,667.56 L614.50,667.50 L617.92,667.46 L621.33,667.43 L624.75,667.41 L628.16,667.41 L631.58,667.41 L635.00,667.42 L638.41,667.43 L641.83,667.45 L645.25,667.47 L648.67,667.48 L652.08,667.50 L655.50,667.50 L658.83,667.50 L662.17,667.49 L665.50,667.47 L668.84,667.46 L672.17,667.44 L675.50,667.43 L678.84,667.42 L682.17,667.42 L685.50,667.42 L688.84,667.43 L692.17,667.46 L695.50,667.50 L698.92,667.56 L702.33,667.63 L705.75,667.71 L709.17,667.80 L712.58,667.89 L716.00,667.99 L719.42,668.09 L722.83,668.19 L726.25,668.28 L729.67,668.37 L733.08,668.44 L736.50,668.50 L739.83,668.54 L743.16,668.58 L746.50,668.59 L749.83,668.60 L753.16,668.60 L756.50,668.60 L759.83,668.58 L763.17,668.57 L766.50,668.55 L769.83,668.53 L773.17,668.51 L776.50,668.50 L779.92,668.49 L783.33,668.48 L786.75,668.48 L790.17,668.48 L793.58,668.48 L797.00,668.48 L800.42,668.49 L803.83,668.49 L807.25,668.49 L810.67,668.50 L814.08,668.50 L817.50,668.50 L820.92,668.50 L824.33,668.49 L827.75,668.49 L831.17,668.48 L834.58,668.48 L838.00,668.47 L841.42,668.47 L844.83,668.47 L848.25,668.47 L851.67,668.48 L855.08,668.49 L858.50,668.50 L861.83,668.52 L865.17,668.54 L868.50,668.56 L871.83,668.59 L875.17,668.61 L878.50,668.62 L881.84,668.63 L885.17,668.63 L888.50,668.62 L891.83,668.59 L895.17,668.56 L898.50,668.50 L901.92,668.42 L905.33,668.33 L908.75,668.23 L912.17,668.12 L915.59,668.01 L919.00,667.90 L922.42,667.79 L925.84,667.70 L929.25,667.62 L932.67,667.55 L936.08,667.51 L939.50,667.50 L942.83,667.52 L946.17,667.56 L949.50,667.62 L952.83,667.70 L956.16,667.80 L959.50,667.90 L962.83,668.01 L966.16,668.12 L969.50,668.23 L972.83,668.33 L976.17,668.42 L979.50,668.50 L982.92,668.56 L986.33,668.60 L989.75,668.63 L993.16,668.64 L996.58,668.64 L1000.00,668.63 L1003.42,668.62 L1006.83,668.59 L1010.25,668.57 L1013.67,668.54 L1017.08,668.52 L1020.50,668.50 L1023.92,668.48 L1027.33,668.47 L1030.75,668.47 L1034.17,668.46 L1037.58,668.46 L1041.00,668.46 L1044.42,668.47 L1047.83,668.47 L1051.25,668.48 L1054.67,668.49 L1058.08,668.49 L1061.50,668.50 L1064.83,668.50 L1068.17,668.51 L1071.50,668.51 L1074.83,668.51 L1078.17,668.51 L1081.50,668.51 L1084.83,668.51 L1088.17,668.51 L1091.50,668.51 L1094.83,668.50 L1098.17,668.50 L1101.50,668.50" fill="none" stroke="#99283c" stroke-width="1.02" stroke-linejoin="round"/>
<path d="M85,670h3v1h-3zM84,671h5v1h-5zM83,672h7v1h-7zM83,673h7v1h-7zM83,674h7v1h-7zM84,675h6v1h-6zM85,676h4v1h-4zM126,670h3v1h-3zM125,671h5v1h-5zM124,672h7v1h-7zM124,673h7v1h-7zM124,674h7v1h-7zM125,675h6v1h-6zM126,676h4v1h-4zM166,670h3v1h-3zM165,671h5v1h-5zM164,672h7v1h-7zM164,673h7v1h-7zM164,674h7v1h-7zM165,675h6v1h-6zM166,676h4v1h-4zM207,670h3v1h-3zM206,671h5v1h-5zM205,672h7v1h-7zM205,673h7v1h-7zM205,674h7v1h-7zM206,675h6v1h-6zM207,676h4v1h-4zM248,670h3v1h-3zM247,671h5v1h-5zM246,672h7v1h-7zM246,673h7v1h-7zM246,674h7v1h-7zM247,675h6v1h-6zM248,676h4v1h-4zM288,662h3v1h-3zM287,663h5v1h-5zM286,664h7v1h-7zM286,665h7v1h-7zM286,666h7v1h-7zM287,667h6v1h-6zM288,668h4v1h-4zM329,667h3v1h-3zM328,668h5v1h-5zM327,669h7v1h-7zM327,670h7v1h-7zM327,671h7v1h-7zM328,672h6v1h-6zM329,673h4v1h-4zM369,666h3v1h-3zM368,667h5v1h-5zM367,668h7v1h-7zM367,669h7v1h-7zM367,670h7v1h-7zM368,671h6v1h-6zM369,672h4v1h-4zM410,666h3v1h-3zM409,667h5v1h-5zM408,668h7v1h-7zM408,669h7v1h-7zM408,670h7v1h-7zM409,671h6v1h-6zM410,672h4v1h-4zM451,666h3v1h-3zM450,667h5v1h-5zM449,668h7v1h-7zM449,669h7v1h-7zM449,670h7v1h-7zM450,671h6v1h-6zM451,672h4v1h-4zM491,666h3v1h-3zM490,667h5v1h-5zM489,668h7v1h-7zM489,669h7v1h-7zM489,670h7v1h-7zM490,671h6v1h-6zM491,672h4v1h-4zM532,665h3v1h-3zM531,666h5v1h-5zM530,667h7v1h-7zM530,668h7v1h-7zM530,669h7v1h-7zM531,670h6v1h-6zM532,671h4v1h-4zM572,665h3v1h-3zM571,666h5v1h-5zM570,667h7v1h-7zM570,668h7v1h-7zM570,669h7v1h-7zM571,670h6v1h-6zM572,671h4v1h-4zM613,664h3v1h-3zM612,665h5v1h-5zM611,666h7v1h-7zM611,667h7v1h-7zM611,668h7v1h-7zM612,669h6v1h-6zM613,670h4v1h-4zM654,664h3v1h-3zM653,665h5v1h-5zM652,666h7v1h-7zM652,667h7v1h-7zM652,668h7v1h-7zM653,669h6v1h-6zM654,670h4v1h-4zM694,664h3v1h-3zM693,665h5v1h-5zM692,666h7v1h-7zM692,667h7v1h-7zM692,668h7v1h-7zM693,669h6v1h-6zM694,670h4v1h-4zM735,665h3v1h-3zM734,666h5v1h-5zM733,667h7v1h-7zM733,668h7v1h-7zM733,669h7v1h-7zM734,670h6v1h-6zM735,671h4v1h-4zM775,665h3v1h-3zM774,666h5v1h-5zM773,667h7v1h-7zM773,668h7v1h-7zM773,669h7v1h-7zM774,670h6v1h-6zM775,671h4v1h-4zM816,665h3v1h-3zM815,666h5v1h-5zM814,667h7v1h-7zM814,668h7v1h-7zM814,669h7v1h-7zM815,670h6v1h-6zM816,671h4v1h-4zM857,665h3v1h-3zM856,666h5v1h-5zM855,667h7v1h-7zM855,668h7v1h-7zM855,669h7v1h-7zM856,670h6v1h-6zM857,671h4v1h-4zM897,665h3v1h-3zM896,666h5v1h-5zM895,667h7v1h-7zM895,668h7v1h-7zM895,669h7v1h-7zM896,670h6v1h-6zM897,671h4v1h-4zM938,664h3v1h-3zM937,665h5v1h-5zM936,666h7v1h-7zM936,667h7v1h-7zM936,668h7v1h-7zM937,669h6v1h-6zM938,670h4v1h-4zM978,665h3v1h-3zM977,666h5v1h-5zM976,667h7v1h-7zM976,668h7v1h-7zM976,669h7v1h-7zM977,670h6v1h-6zM978,671h4v1h-4zM1019,665h3v1h-3zM1018,666h5v1h-5zM1017,667h7v1h-7zM1017,668h7v1h-7zM1017,669h7v1h-7zM1018,670h6v1h-6zM1019,671h4v1h-4zM1060,665h3v1h-3zM1059,666h5v1h-5zM1058,667h7v1h-7zM1058,668h7v1h-7zM1058,669h7v1h-7zM1059,670h6v1h-6zM1060,671h4v1h-4zM1100,665h3v1h-3zM1099,666h5v1h-5zM1098,667h7v1h-7zM1098,668h7v1h-7zM1098,669h7v1h-7zM1099,670h6v1h-6zM1100,671h4v1h-4z" fill="#99283c" shape-rendering="crispEdges"/>
<path clip-path="url(#lc)" d="M86.50,664.50 L89.92,664.61 L93.33,664.73 L96.75,664.83 L100.16,664.94 L103.58,665.04 L107.00,665.14 L110.41,665.22 L113.83,665.30 L117.25,665.37 L120.66,665.43 L124.08,665.47 L127.50,665.50 L130.83,665.52 L134.17,665.52 L137.50,665.52 L140.83,665.50 L144.17,665.49 L147.50,665.47 L150.84,665.46 L154.17,665.45 L157.50,665.44 L160.84,665.45 L164.17,665.47 L167.50,665.50 L170.92,665.55 L174.33,665.62 L177.75,665.69 L181.16,665.78 L184.58,665.87 L187.99,665.97 L191.41,666.07 L194.82,666.17 L198.24,666.27 L201.66,666.36 L205.08,666.43 L208.50,666.50 L211.93,666.55 L215.36,666.58 L218.78,666.58 L222.21,666.55 L225.64,666.49 L229.06,666.38 L232.48,666.22 L235.90,666.01 L239.31,665.73 L242.71,665.40 L246.11,664.99 L249.50,664.50 L252.86,663.94 L256.22,663.32 L259.56,662.66 L262.90,661.98 L266.24,661.31 L269.57,660.66 L272.90,660.06 L276.22,659.53 L279.54,659.08 L282.86,658.75 L286.18,658.55 L289.50,658.50 L292.90,658.62 L296.30,658.90 L299.70,659.31 L303.10,659.82 L306.51,660.41 L309.92,661.05 L313.33,661.72 L316.75,662.39 L320.18,663.02 L323.61,663.60 L327.05,664.11 L330.50,664.50 L333.81,664.76 L337.12,664.91 L340.45,664.97 L343.77,664.94 L347.11,664.85 L350.44,664.71 L353.78,664.52 L357.13,664.31 L360.47,664.09 L363.81,663.87 L367.16,663.67 L370.50,663.50 L373.92,663.37 L377.34,663.27 L380.76,663.21 L384.18,663.19 L387.60,663.19 L391.01,663.21 L394.43,663.25 L397.84,663.29 L401.26,663.35 L404.67,663.40 L408.09,663.46 L411.50,663.50 L414.91,663.53 L418.33,663.55 L421.75,663.56 L425.16,663.56 L428.58,663.56 L432.00,663.55 L435.41,663.54 L438.83,663.52 L442.25,663.51 L445.66,663.50 L449.08,663.50 L452.50,663.50 L455.83,663.51 L459.17,663.52 L462.50,663.54 L465.84,663.56 L469.17,663.58 L472.50,663.59 L475.84,663.60 L479.17,663.60 L482.50,663.60 L485.84,663.58 L489.17,663.55 L492.50,663.50 L495.92,663.43 L499.33,663.35 L502.75,663.26 L506.17,663.16 L509.58,663.06 L513.00,662.95 L516.41,662.85 L519.83,662.75 L523.25,662.67 L526.66,662.59 L530.08,662.54 L533.50,662.50 L536.83,662.49 L540.17,662.49 L543.50,662.51 L546.84,662.53 L550.17,662.56 L553.51,662.59 L556.84,662.61 L560.17,662.63 L563.51,662.63 L566.84,662.61 L570.17,662.57 L573.50,662.50 L576.92,662.40 L580.34,662.26 L583.75,662.11 L587.17,661.93 L590.59,661.75 L594.00,661.55 L597.42,661.35 L600.83,661.16 L604.25,660.97 L607.66,660.79 L611.08,660.63 L614.50,660.50 L617.91,660.39 L621.33,660.31 L624.74,660.26 L628.16,660.22 L631.57,660.21 L634.99,660.22 L638.41,660.24 L641.83,660.27 L645.25,660.32 L648.66,660.37 L652.08,660.43 L655.50,660.50 L658.84,660.57 L662.17,660.64 L665.50,660.72 L668.84,660.79 L672.17,660.87 L675.50,660.96 L678.84,661.04 L682.17,661.13 L685.50,661.22 L688.84,661.31 L692.17,661.40 L695.50,661.50 L698.92,661.60 L702.33,661.70 L705.75,661.80 L709.16,661.90 L712.58,662.00 L716.00,662.09 L719.41,662.18 L722.83,662.26 L726.25,662.33 L729.66,662.40 L733.08,662.45 L736.50,662.50 L739.83,662.53 L743.17,662.56 L746.50,662.57 L749.83,662.58 L753.17,662.58 L756.50,662.57 L759.83,662.56 L763.17,662.55 L766.50,662.54 L769.83,662.52 L773.17,662.51 L776.50,662.50 L779.92,662.49 L783.33,662.49 L786.75,662.48 L790.17,662.48 L793.58,662.49 L797.00,662.49 L800.42,662.49 L803.83,662.49 L807.25,662.50 L810.67,662.50 L814.08,662.50 L817.50,662.50 L820.92,662.50 L824.33,662.49 L827.75,662.49 L831.17,662.48 L834.58,662.48 L838.00,662.47 L841.42,662.47 L844.83,662.47 L848.25,662.47 L851.67,662.48 L855.08,662.49 L858.50,662.50 L861.83,662.52 L865.17,662.54 L868.50,662.57 L871.83,662.59 L875.17,662.61 L878.50,662.62 L881.84,662.63 L885.17,662.63 L888.50,662.62 L891.83,662.59 L895.17,662.56 L898.50,662.50 L901.92,662.42 L905.33,662.33 L908.75,662.23 L912.17,662.12 L915.59,662.01 L919.00,661.90 L922.42,661.79 L925.84,661.70 L929.25,661.62 L932.67,661.55 L936.08,661.51 L939.50,661.50 L942.83,661.52 L946.17,661.56 L949.50,661.62 L952.83,661.70 L956.16,661.80 L959.50,661.90 L962.83,662.01 L966.16,662.12 L969.50,662.23 L972.83,662.33 L976.17,662.42 L979.50,662.50 L982.92,662.56 L986.33,662.60 L989.75,662.63 L993.16,662.64 L996.58,662.64 L1000.00,662.63 L1003.42,662.62 L1006.83,662.59 L1010.25,662.57 L1013.67,662.54 L1017.08,662.52 L1020.50,662.50 L1023.92,662.48 L1027.33,662.47 L1030.75,662.47 L1034.17,662.46 L1037.58,662.46 L1041.00,662.46 L1044.42,662.47 L1047.83,662.47 L1051.25,662.48 L1054.67,662.49 L1058.08,662.49 L1061.50,662.50 L1064.83,662.50 L1068.17,662.51 L1071.50,662.51 L1074.83,662.51 L1078.17,662.51 L1081.50,662.51 L1084.83,662.51 L1088.17,662.51 L1091.50,662.51 L1094.83,662.50 L1098.17,662.50 L1101.50,662.50" fill="none" stroke="#3c3a78" stroke-width="1.02" stroke-linejoin="round"/>
<path d="M85,661h3v1h-3zM84,662h5v1h-5zM83,663h7v1h-7zM83,664h7v1h-7zM83,665h7v1h-7zM84,666h6v1h-6zM85,667h4v1h-4zM126,662h3v1h-3zM125,663h5v1h-5zM124,664h7v1h-7zM124,665h7v1h-7zM124,666h7v1h-7zM125,667h6v1h-6zM126,668h4v1h-4zM166,662h3v1h-3zM165,663h5v1h-5zM164,664h7v1h-7zM164,665h7v1h-7zM164,666h7v1h-7zM165,667h6v1h-6zM166,668h4v1h-4zM207,663h3v1h-3zM206,664h5v1h-5zM205,665h7v1h-7zM205,666h7v1h-7zM205,667h7v1h-7zM206,668h6v1h-6zM207,669h4v1h-4zM248,661h3v1h-3zM247,662h5v1h-5zM246,663h7v1h-7zM246,664h7v1h-7zM246,665h7v1h-7zM247,666h6v1h-6zM248,667h4v1h-4zM288,655h3v1h-3zM287,656h5v1h-5zM286,657h7v1h-7zM286,658h7v1h-7zM286,659h7v1h-7zM287,660h6v1h-6zM288,661h4v1h-4zM329,661h3v1h-3zM328,662h5v1h-5zM327,663h7v1h-7zM327,664h7v1h-7zM327,665h7v1h-7zM328,666h6v1h-6zM329,667h4v1h-4zM369,660h3v1h-3zM368,661h5v1h-5zM367,662h7v1h-7zM367,663h7v1h-7zM367,664h7v1h-7zM368,665h6v1h-6zM369,666h4v1h-4zM410,660h3v1h-3zM409,661h5v1h-5zM408,662h7v1h-7zM408,663h7v1h-7zM408,664h7v1h-7zM409,665h6v1h-6zM410,666h4v1h-4zM451,660h3v1h-3zM450,661h5v1h-5zM449,662h7v1h-7zM449,663h7v1h-7zM449,664h7v1h-7zM450,665h6v1h-6zM451,666h4v1h-4zM491,660h3v1h-3zM490,661h5v1h-5zM489,662h7v1h-7zM489,663h7v1h-7zM489,664h7v1h-7zM490,665h6v1h-6zM491,666h4v1h-4zM532,659h3v1h-3zM531,660h5v1h-5zM530,661h7v1h-7zM530,662h7v1h-7zM530,663h7v1h-7zM531,664h6v1h-6zM532,665h4v1h-4zM572,659h3v1h-3zM571,660h5v1h-5zM570,661h7v1h-7zM570,662h7v1h-7zM570,663h7v1h-7zM571,664h6v1h-6zM572,665h4v1h-4zM613,657h3v1h-3zM612,658h5v1h-5zM611,659h7v1h-7zM611,660h7v1h-7zM611,661h7v1h-7zM612,662h6v1h-6zM613,663h4v1h-4zM654,657h3v1h-3zM653,658h5v1h-5zM652,659h7v1h-7zM652,660h7v1h-7zM652,661h7v1h-7zM653,662h6v1h-6zM654,663h4v1h-4zM694,658h3v1h-3zM693,659h5v1h-5zM692,660h7v1h-7zM692,661h7v1h-7zM692,662h7v1h-7zM693,663h6v1h-6zM694,664h4v1h-4zM735,659h3v1h-3zM734,660h5v1h-5zM733,661h7v1h-7zM733,662h7v1h-7zM733,663h7v1h-7zM734,664h6v1h-6zM735,665h4v1h-4zM775,659h3v1h-3zM774,660h5v1h-5zM773,661h7v1h-7zM773,662h7v1h-7zM773,663h7v1h-7zM774,664h6v1h-6zM775,665h4v1h-4zM816,659h3v1h-3zM815,660h5v1h-5zM814,661h7v1h-7zM814,662h7v1h-7zM814,663h7v1h-7zM815,664h6v1h-6zM816,665h4v1h-4zM857,659h3v1h-3zM856,660h5v1h-5zM855,661h7v1h-7zM855,662h7v1h-7zM855,663h7v1h-7zM856,664h6v1h-6zM857,665h4v1h-4zM897,659h3v1h-3zM896,660h5v1h-5zM895,661h7v1h-7zM895,662h7v1h-7zM895,663h7v1h-7zM896,664h6v1h-6zM897,665h4v1h-4zM938,658h3v1h-3zM937,659h5v1h-5zM936,660h7v1h-7zM936,661h7v1h-7zM936,662h7v1h-7zM937,663h6v1h-6zM938,664h4v1h-4zM978,659h3v1h-3zM977,660h5v1h-5zM976,661h7v1h-7zM976,662h7v1h-7zM976,663h7v1h-7zM977,664h6v1h-6zM978,665h4v1h-4zM1019,659h3v1h-3zM1018,660h5v1h-5zM1017,661h7v1h-7zM1017,662h7v1h-7zM1017,663h7v1h-7zM1018,664h6v1h-6zM1019,665h4v1h-4zM1060,659h3v1h-3zM1059,660h5v1h-5zM1058,661h7v1h-7zM1058,662h7v1h-7zM1058,663h7v1h-7zM1059,664h6v1h-6zM1060,665h4v1h-4zM1100,659h3v1h-3zM1099,660h5v1h-5zM1098,661h7v1h-7zM1098,662h7v1h-7zM1098,663h7v1h-7zM1099,664h6v1h-6zM1100,665h4v1h-4z" fill="#3c3a78" shape-rendering="crispEdges"/>
<path clip-path="url(#lc)" d="M86.50,655.50 L89.92,655.54 L93.34,655.58 L96.75,655.62 L100.17,655.65 L103.59,655.67 L107.00,655.68 L110.42,655.69 L113.84,655.68 L117.25,655.66 L120.67,655.63 L124.09,655.57 L127.50,655.50 L130.83,655.41 L134.17,655.31 L137.50,655.19 L140.83,655.07 L144.16,654.95 L147.50,654.84 L150.83,654.73 L154.16,654.64 L157.50,654.57 L160.83,654.51 L164.16,654.49 L167.50,654.50 L170.92,654.55 L174.34,654.62 L177.76,654.73 L181.18,654.85 L184.60,654.97 L188.02,655.10 L191.44,655.23 L194.85,655.34 L198.27,655.43 L201.68,655.49 L205.09,655.52 L208.50,655.50 L211.92,655.43 L215.34,655.32 L218.75,655.16 L222.17,654.97 L225.58,654.74 L228.99,654.47 L232.41,654.19 L235.82,653.88 L239.24,653.55 L242.65,653.21 L246.08,652.86 L249.50,652.50 L252.84,652.15 L256.17,651.81 L259.51,651.48 L262.85,651.18 L266.19,650.91 L269.53,650.67 L272.87,650.48 L276.21,650.34 L279.54,650.27 L282.86,650.27 L286.19,650.34 L289.50,650.50 L292.93,650.76 L296.35,651.10 L299.77,651.52 L303.18,651.98 L306.59,652.47 L310.00,652.99 L313.41,653.50 L316.82,654.00 L320.23,654.46 L323.65,654.88 L327.07,655.23 L330.50,655.50 L333.81,655.67 L337.13,655.76 L340.45,655.77 L343.78,655.73 L347.11,655.64 L350.45,655.51 L353.79,655.35 L357.13,655.17 L360.47,654.99 L363.81,654.81 L367.16,654.64 L370.50,654.50 L373.92,654.39 L377.34,654.31 L380.76,654.27 L384.18,654.24 L387.60,654.24 L391.01,654.26 L394.43,654.29 L397.84,654.33 L401.26,654.38 L404.67,654.42 L408.09,654.46 L411.50,654.50 L414.92,654.53 L418.33,654.54 L421.75,654.55 L425.16,654.55 L428.58,654.55 L432.00,654.54 L435.41,654.53 L438.83,654.52 L442.25,654.51 L445.67,654.51 L449.08,654.50 L452.50,654.50 L455.83,654.50 L459.17,654.51 L462.50,654.52 L465.84,654.54 L469.17,654.55 L472.50,654.56 L475.84,654.57 L479.17,654.57 L482.50,654.56 L485.84,654.55 L489.17,654.53 L492.50,654.50 L495.92,654.46 L499.33,654.40 L502.75,654.33 L506.17,654.26 L509.58,654.17 L513.00,654.08 L516.42,653.99 L519.83,653.89 L523.25,653.80 L526.67,653.70 L530.08,653.60 L533.50,653.50 L536.83,653.41 L540.17,653.32 L543.50,653.23 L546.83,653.15 L550.17,653.07 L553.50,652.99 L556.83,652.91 L560.17,652.83 L563.50,652.75 L566.83,652.66 L570.17,652.58 L573.50,652.50 L576.92,652.41 L580.33,652.33 L583.75,652.24 L587.16,652.15 L590.58,652.06 L594.00,651.97 L597.41,651.89 L600.83,651.80 L604.25,651.72 L607.66,651.64 L611.08,651.57 L614.50,651.50 L617.92,651.44 L621.34,651.38 L624.75,651.33 L628.17,651.29 L631.59,651.26 L635.01,651.24 L638.42,651.24 L641.84,651.25 L645.26,651.28 L648.67,651.33 L652.09,651.41 L655.50,651.50 L658.84,651.61 L662.17,651.75 L665.50,651.90 L668.84,652.06 L672.17,652.24 L675.50,652.42 L678.83,652.61 L682.17,652.80 L685.50,652.98 L688.83,653.16 L692.17,653.34 L695.50,653.50 L698.91,653.65 L702.33,653.79 L705.74,653.91 L709.16,654.02 L712.57,654.12 L715.99,654.21 L719.41,654.28 L722.83,654.35 L726.24,654.40 L729.66,654.44 L733.08,654.48 L736.50,654.50 L739.83,654.52 L743.17,654.52 L746.50,654.53 L749.83,654.53 L753.17,654.52 L756.50,654.52 L759.83,654.51 L763.17,654.50 L766.50,654.50 L769.83,654.49 L773.17,654.49 L776.50,654.50 L779.92,654.51 L783.33,654.53 L786.75,654.55 L790.17,654.57 L793.59,654.58 L797.00,654.60 L800.42,654.61 L803.84,654.61 L807.25,654.60 L810.67,654.58 L814.08,654.55 L817.50,654.50 L820.92,654.43 L824.33,654.36 L827.75,654.26 L831.17,654.17 L834.58,654.06 L838.00,653.96 L841.42,653.86 L844.83,653.76 L848.25,653.68 L851.67,653.60 L855.08,653.54 L858.50,653.50 L861.83,653.48 L865.16,653.48 L868.50,653.49 L871.83,653.51 L875.16,653.53 L878.50,653.55 L881.83,653.58 L885.16,653.59 L888.50,653.60 L891.83,653.58 L895.17,653.55 L898.50,653.50 L901.92,653.42 L905.34,653.32 L908.76,653.20 L912.18,653.07 L915.59,652.94 L919.01,652.81 L922.43,652.70 L925.84,652.60 L929.26,652.52 L932.67,652.48 L936.09,652.47 L939.50,652.50 L942.83,652.58 L946.17,652.69 L949.50,652.84 L952.83,653.02 L956.16,653.21 L959.50,653.42 L962.83,653.63 L966.16,653.84 L969.49,654.04 L972.83,654.22 L976.16,654.37 L979.50,654.50 L982.91,654.59 L986.33,654.65 L989.74,654.68 L993.16,654.68 L996.58,654.67 L999.99,654.64 L1003.41,654.60 L1006.83,654.57 L1010.25,654.53 L1013.67,654.50 L1017.08,654.49 L1020.50,654.50 L1023.92,654.53 L1027.34,654.58 L1030.75,654.65 L1034.17,654.73 L1037.59,654.83 L1041.00,654.93 L1044.42,655.04 L1047.83,655.14 L1051.25,655.24 L1054.67,655.34 L1058.08,655.43 L1061.50,655.50 L1064.83,655.56 L1068.16,655.60 L1071.50,655.63 L1074.83,655.64 L1078.16,655.65 L1081.50,655.64 L1084.83,655.63 L1088.16,655.61 L1091.50,655.59 L1094.83,655.56 L1098.17,655.53 L1101.50,655.50" fill="none" stroke="#ff69b4" stroke-width="1.02" stroke-linejoin="round"/>
<path d="M85,652h3v1h-3zM84,653h5v1h-5zM83,654h7v1h-7zM83,655h7v1h-7zM83,656h7v1h-7zM84,657h6v1h-6zM85,658h4v1h-4zM126,652h3v1h-3zM125,653h5v1h-5zM124,654h7v1h-7zM124,655h7v1h-7zM124,656h7v1h-7zM125,657h6v1h-6zM126,658h4v1h-4zM166,651h3v1h-3zM165,652h5v1h-5zM164,653h7v1h-7zM164,654h7v1h-7zM164,655h7v1h-7zM165,656h6v1h-6zM166,657h4v1h-4zM207,652h3v1h-3zM206,653h5v1h-5zM205,654h7v1h-7zM205,655h7v1h-7zM205,656h7v1h-7zM206,657h6v1h-6zM207,658h4v1h-4zM248,649h3v1h-3zM247,650h5v1h-5zM246,651h7v1h-7zM246,652h7v1h-7zM246,653h7v1h-7zM247,654h6v1h-6zM248,655h4v1h-4zM288,647h3v1h-3zM287,648h5v1h-5zM286,649h7v1h-7zM286,650h7v1h-7zM286,651h7v1h-7zM287,652h6v1h-6zM288,653h4v1h-4zM329,652h3v1h-3zM328,653h5v1h-5zM327,654h7v1h-7zM327,655h7v1h-7zM327,656h7v1h-7zM328,657h6v1h-6zM329,658h4v1h-4zM369,651h3v1h-3zM368,652h5v1h-5zM367,653h7v1h-7zM367,654h7v1h-7zM367,655h7v1h-7zM368,656h6v1h-6zM369,657h4v1h-4zM410,651h3v1h-3zM409,652h5v1h-5zM408,653h7v1h-7zM408,654h7v1h-7zM408,655h7v1h-7zM409,656h6v1h-6zM410,657h4v1h-4zM451,651h3v1h-3zM450,652h5v1h-5zM449,653h7v1h-7zM449,654h7v1h-7zM449,655h7v1h-7zM450,656h6v1h-6zM451,657h4v1h-4zM491,651h3v1h-3zM490,652h5v1h-5zM489,653h7v1h-7zM489,654h7v1h-7zM489,655h7v1h-7zM490,656h6v1h-6zM491,657h4v1h-4zM532,650h3v1h-3zM531,651h5v1h-5zM530,652h7v1h-7zM530,653h7v1h-7zM530,654h7v1h-7zM531,655h6v1h-6zM532,656h4v1h-4zM572,649h3v1h-3zM571,650h5v1h-5zM570,651h7v1h-7zM570,652h7v1h-7zM570,653h7v1h-7zM571,654h6v1h-6zM572,655h4v1h-4zM613,648h3v1h-3zM612,649h5v1h-5zM611,650h7v1h-7zM611,651h7v1h-7zM611,652h7v1h-7zM612,653h6v1h-6zM613,654h4v1h-4zM654,648h3v1h-3zM653,649h5v1h-5zM652,650h7v1h-7zM652,651h7v1h-7zM652,652h7v1h-7zM653,653h6v1h-6zM654,654h4v1h-4zM694,650h3v1h-3zM693,651h5v1h-5zM692,652h7v1h-7zM692,653h7v1h-7zM692,654h7v1h-7zM693,655h6v1h-6zM694,656h4v1h-4zM735,651h3v1h-3zM734,652h5v1h-5zM733,653h7v1h-7zM733,654h7v1h-7zM733,655h7v1h-7zM734,656h6v1h-6zM735,657h4v1h-4zM775,651h3v1h-3zM774,652h5v1h-5zM773,653h7v1h-7zM773,654h7v1h-7zM773,655h7v1h-7zM774,656h6v1h-6zM775,657h4v1h-4zM816,651h3v1h-3zM815,652h5v1h-5zM814,653h7v1h-7zM814,654h7v1h-7zM814,655h7v1h-7zM815,656h6v1h-6zM816,657h4v1h-4zM857,650h3v1h-3zM856,651h5v1h-5zM855,652h7v1h-7zM855,653h7v1h-7zM855,654h7v1h-7zM856,655h6v1h-6zM857,656h4v1h-4zM897,650h3v1h-3zM896,651h5v1h-5zM895,652h7v1h-7zM895,653h7v1h-7zM895,654h7v1h-7zM896,655h6v1h-6zM897,656h4v1h-4zM938,649h3v1h-3zM937,650h5v1h-5zM936,651h7v1h-7zM936,652h7v1h-7zM936,653h7v1h-7zM937,654h6v1h-6zM938,655h4v1h-4zM978,651h3v1h-3zM977,652h5v1h-5zM976,653h7v1h-7zM976,654h7v1h-7zM976,655h7v1h-7zM977,656h6v1h-6zM978,657h4v1h-4zM1019,651h3v1h-3zM1018,652h5v1h-5zM1017,653h7v1h-7zM1017,654h7v1h-7zM1017,655h7v1h-7zM1018,656h6v1h-6zM1019,657h4v1h-4zM1060,652h3v1h-3zM1059,653h5v1h-5zM1058,654h7v1h-7zM1058,655h7v1h-7zM1058,656h7v1h-7zM1059,657h6v1h-6zM1060,658h4v1h-4zM1100,652h3v1h-3zM1099,653h5v1h-5zM1098,654h7v1h-7zM1098,655h7v1h-7zM1098,656h7v1h-7zM1099,657h6v1h-6zM1100,658h4v1h-4z" fill="#ff69b4" shape-rendering="crispEdges"/>
<path clip-path="url(#lc)" d="M86.50,645.50 L89.92,645.44 L93.34,645.37 L96.76,645.30 L100.17,645.23 L103.59,645.16 L107.01,645.08 L110.43,645.00 L113.84,644.92 L117.26,644.82 L120.67,644.72 L124.09,644.62 L127.50,644.50 L130.83,644.38 L134.16,644.25 L137.49,644.12 L140.82,644.00 L144.15,643.88 L147.48,643.76 L150.81,643.67 L154.14,643.58 L157.48,643.52 L160.82,643.49 L164.16,643.48 L167.50,643.50 L170.93,643.56 L174.36,643.64 L177.79,643.74 L181.22,643.84 L184.65,643.93 L188.08,644.01 L191.50,644.06 L194.92,644.07 L198.33,644.03 L201.73,643.93 L205.12,643.76 L208.50,643.50 L211.94,643.15 L215.36,642.71 L218.78,642.21 L222.19,641.67 L225.59,641.09 L229.00,640.49 L232.40,639.90 L235.81,639.32 L239.22,638.77 L242.64,638.28 L246.06,637.85 L249.50,637.50 L252.80,637.26 L256.11,637.10 L259.44,637.01 L262.77,637.00 L266.10,637.04 L269.44,637.14 L272.79,637.29 L276.13,637.48 L279.48,637.70 L282.82,637.95 L286.16,638.22 L289.50,638.50 L292.93,638.79 L296.35,639.09 L299.78,639.39 L303.19,639.68 L306.61,639.96 L310.02,640.24 L313.43,640.50 L316.84,640.74 L320.25,640.97 L323.67,641.17 L327.08,641.35 L330.50,641.50 L333.82,641.62 L337.15,641.70 L340.48,641.77 L343.81,641.81 L347.14,641.82 L350.48,641.82 L353.81,641.80 L357.15,641.76 L360.49,641.71 L363.83,641.65 L367.16,641.58 L370.50,641.50 L373.92,641.41 L377.34,641.32 L380.76,641.22 L384.17,641.13 L387.59,641.03 L391.01,640.94 L394.42,640.85 L397.84,640.76 L401.25,640.68 L404.67,640.61 L408.08,640.55 L411.50,640.50 L414.91,640.46 L418.33,640.44 L421.75,640.42 L425.16,640.42 L428.58,640.42 L432.00,640.43 L435.41,640.44 L438.83,640.45 L442.25,640.47 L445.67,640.48 L449.08,640.49 L452.50,640.50 L455.83,640.50 L459.17,640.50 L462.50,640.50 L465.83,640.49 L469.17,640.49 L472.50,640.48 L475.83,640.47 L479.17,640.47 L482.50,640.47 L485.83,640.48 L489.17,640.48 L492.50,640.50 L495.92,640.52 L499.34,640.55 L502.75,640.58 L506.17,640.61 L509.59,640.63 L513.01,640.65 L516.42,640.67 L519.84,640.67 L523.26,640.65 L526.67,640.62 L530.09,640.57 L533.50,640.50 L536.84,640.41 L540.17,640.29 L543.51,640.16 L546.84,640.01 L550.18,639.84 L553.51,639.67 L556.84,639.48 L560.18,639.29 L563.51,639.09 L566.84,638.90 L570.17,638.70 L573.50,638.50 L576.91,638.30 L580.33,638.11 L583.74,637.92 L587.15,637.74 L590.57,637.57 L593.98,637.40 L597.40,637.23 L600.81,637.08 L604.23,636.92 L607.65,636.78 L611.08,636.63 L614.50,636.50 L617.92,636.37 L621.34,636.26 L624.76,636.15 L628.19,636.07 L631.61,636.00 L635.03,635.97 L638.45,635.96 L641.87,635.98 L645.28,636.05 L648.69,636.15 L652.10,636.30 L655.50,636.50 L658.84,636.75 L662.18,637.04 L665.52,637.36 L668.85,637.71 L672.18,638.08 L675.50,638.46 L678.83,638.85 L682.16,639.22 L685.49,639.58 L688.82,639.92 L692.16,640.23 L695.50,640.50 L698.90,640.73 L702.31,640.91 L705.71,641.06 L709.13,641.17 L712.55,641.25 L715.96,641.31 L719.39,641.36 L722.81,641.39 L726.23,641.41 L729.66,641.44 L733.08,641.46 L736.50,641.50 L739.84,641.55 L743.17,641.61 L746.51,641.68 L749.84,641.76 L753.17,641.84 L756.51,641.93 L759.84,642.03 L763.17,642.12 L766.50,642.22 L769.83,642.32 L773.17,642.41 L776.50,642.50 L779.92,642.59 L783.33,642.66 L786.75,642.73 L790.17,642.78 L793.59,642.82 L797.00,642.84 L800.42,642.84 L803.84,642.83 L807.26,642.78 L810.67,642.72 L814.09,642.62 L817.50,642.50 L820.92,642.35 L824.34,642.17 L827.76,641.97 L831.17,641.76 L834.59,641.55 L838.00,641.33 L841.42,641.13 L844.83,640.95 L848.25,640.78 L851.67,640.65 L855.08,640.55 L858.50,640.50 L861.83,640.49 L865.16,640.53 L868.49,640.60 L871.83,640.69 L875.16,640.80 L878.49,640.92 L881.83,641.05 L885.16,641.18 L888.50,641.29 L891.83,641.39 L895.17,641.46 L898.50,641.50 L901.92,641.50 L905.33,641.47 L908.75,641.41 L912.17,641.32 L915.58,641.22 L919.00,641.11 L922.42,640.99 L925.83,640.87 L929.25,640.75 L932.67,640.65 L936.08,640.56 L939.50,640.50 L942.83,640.47 L946.17,640.46 L949.50,640.48 L952.84,640.52 L956.17,640.58 L959.51,640.66 L962.84,640.76 L966.17,640.88 L969.51,641.02 L972.84,641.17 L976.17,641.33 L979.50,641.50 L982.92,641.69 L986.33,641.88 L989.75,642.08 L993.17,642.28 L996.58,642.47 L1000.00,642.66 L1003.41,642.84 L1006.83,643.01 L1010.25,643.16 L1013.66,643.30 L1017.08,643.41 L1020.50,643.50 L1023.91,643.56 L1027.33,643.60 L1030.74,643.62 L1034.16,643.62 L1037.58,643.61 L1040.99,643.59 L1044.41,643.56 L1047.83,643.54 L1051.25,643.52 L1054.66,643.50 L1058.08,643.49 L1061.50,643.50 L1064.84,643.52 L1068.17,643.56 L1071.50,643.62 L1074.84,643.68 L1078.17,643.76 L1081.51,643.85 L1084.84,643.94 L1088.17,644.05 L1091.50,644.15 L1094.84,644.27 L1098.17,644.38 L1101.50,644.50" fill="none" stroke="#008000" stroke-width="1.02" stroke-linejoin="round"/>
<path d="M85,642h3v1h-3zM84,643h5v1h-5zM83,644h7v1h-7zM83,645h7v1h-7zM83,646h7v1h-7zM84,647h6v1h-6zM85,648h4v1h-4zM126,641h3v1h-3zM125,642h5v1h-5zM124,643h7v1h-7zM124,644h7v1h-7zM124,645h7v1h-7zM125,646h6v1h-6zM126,647h4v1h-4zM166,640h3v1h-3zM165,641h5v1h-5zM164,642h7v1h-7zM164,643h7v1h-7zM164,644h7v1h-7zM165,645h6v1h-6zM166,646h4v1h-4zM207,640h3v1h-3zM206,641h5v1h-5zM205,642h7v1h-7zM205,643h7v1h-7zM205,644h7v1h-7zM206,645h6v1h-6zM207,646h4v1h-4zM248,634h3v1h-3zM247,635h5v1h-5zM246,636h7v1h-7zM246,637h7v1h-7zM246,638h7v1h-7zM247,639h6v1h-6zM248,640h4v1h-4zM288,635h3v1h-3zM287,636h5v1h-5zM286,637h7v1h-7zM286,638h7v1h-7zM286,639h7v1h-7zM287,640h6v1h-6zM288,641h4v1h-4zM329,638h3v1h-3zM328,639h5v1h-5zM327,640h7v1h-7zM327,641h7v1h-7zM327,642h7v1h-7zM328,643h6v1h-6zM329,644h4v1h-4zM369,638h3v1h-3zM368,639h5v1h-5zM367,640h7v1h-7zM367,641h7v1h-7zM367,642h7v1h-7zM368,643h6v1h-6zM369,644h4v1h-4zM410,637h3v1h-3zM409,638h5v1h-5zM408,639h7v1h-7zM408,640h7v1h-7zM408,641h7v1h-7zM409,642h6v1h-6zM410,643h4v1h-4zM451,637h3v1h-3zM450,638h5v1h-5zM449,639h7v1h-7zM449,640h7v1h-7zM449,641h7v1h-7zM450,642h6v1h-6zM451,643h4v1h-4zM491,637h3v1h-3zM490,638h5v1h-5zM489,639h7v1h-7zM489,640h7v1h-7zM489,641h7v1h-7zM490,642h6v1h-6zM491,643h4v1h-4zM532,637h3v1h-3zM531,638h5v1h-5zM530,639h7v1h-7zM530,640h7v1h-7zM530,641h7v1h-7zM531,642h6v1h-6zM532,643h4v1h-4zM572,635h3v1h-3zM571,636h5v1h-5zM570,637h7v1h-7zM570,638h7v1h-7zM570,639h7v1h-7zM571,640h6v1h-6zM572,641h4v1h-4zM613,633h3v1h-3zM612,634h5v1h-5zM611,635h7v1h-7zM611,636h7v1h-7zM611,637h7v1h-7zM612,638h6v1h-6zM613,639h4v1h-4zM654,633h3v1h-3zM653,634h5v1h-5zM652,635h7v1h-7zM652,636h7v1h-7zM652,637h7v1h-7zM653,638h6v1h-6zM654,639h4v1h-4zM694,637h3v1h-3zM693,638h5v1h-5zM692,639h7v1h-7zM692,640h7v1h-7zM692,641h7v1h-7zM693,642h6v1h-6zM694,643h4v1h-4zM735,638h3v1h-3zM734,639h5v1h-5zM733,640h7v1h-7zM733,641h7v1h-7zM733,642h7v1h-7zM734,643h6v1h-6zM735,644h4v1h-4zM775,639h3v1h-3zM774,640h5v1h-5zM773,641h7v1h-7zM773,642h7v1h-7zM773,643h7v1h-7zM774,644h6v1h-6zM775,645h4v1h-4zM816,639h3v1h-3zM815,640h5v1h-5zM814,641h7v1h-7zM814,642h7v1h-7zM814,643h7v1h-7zM815,644h6v1h-6zM816,645h4v1h-4zM857,637h3v1h-3zM856,638h5v1h-5zM855,639h7v1h-7zM855,640h7v1h-7zM855,641h7v1h-7zM856,642h6v1h-6zM857,643h4v1h-4zM897,638h3v1h-3zM896,639h5v1h-5zM895,640h7v1h-7zM895,641h7v1h-7zM895,642h7v1h-7zM896,643h6v1h-6zM897,644h4v1h-4zM938,637h3v1h-3zM937,638h5v1h-5zM936,639h7v1h-7zM936,640h7v1h-7zM936,641h7v1h-7zM937,642h6v1h-6zM938,643h4v1h-4zM978,638h3v1h-3zM977,639h5v1h-5zM976,640h7v1h-7zM976,641h7v1h-7zM976,642h7v1h-7zM977,643h6v1h-6zM978,644h4v1h-4zM1019,640h3v1h-3zM1018,641h5v1h-5zM1017,642h7v1h-7zM1017,643h7v1h-7zM1017,644h7v1h-7zM1018,645h6v1h-6zM1019,646h4v1h-4zM1060,640h3v1h-3zM1059,641h5v1h-5zM1058,642h7v1h-7zM1058,643h7v1h-7zM1058,644h7v1h-7zM1059,645h6v1h-6zM1060,646h4v1h-4zM1100,641h3v1h-3zM1099,642h5v1h-5zM1098,643h7v1h-7zM1098,644h7v1h-7zM1098,645h7v1h-7zM1099,646h6v1h-6zM1100,647h4v1h-4z" fill="#008000" shape-rendering="crispEdges"/>
<path clip-path="url(#lc)" d="M86.50,633.50 L89.91,633.04 L93.32,632.58 L96.73,632.12 L100.15,631.67 L103.56,631.23 L106.97,630.79 L110.39,630.37 L113.81,629.96 L117.23,629.57 L120.65,629.19 L124.07,628.84 L127.50,628.50 L130.81,628.20 L134.12,627.92 L137.44,627.66 L140.75,627.43 L144.08,627.22 L147.41,627.03 L150.74,626.87 L154.08,626.74 L157.42,626.64 L160.78,626.56 L164.13,626.52 L167.50,626.50 L170.96,626.51 L174.42,626.54 L177.88,626.57 L181.34,626.59 L184.79,626.59 L188.23,626.54 L191.66,626.43 L195.08,626.25 L198.47,625.98 L201.84,625.61 L205.19,625.12 L208.50,624.50 L211.99,623.69 L215.44,622.74 L218.87,621.70 L222.27,620.59 L225.67,619.45 L229.05,618.32 L232.43,617.22 L235.81,616.20 L239.21,615.28 L242.62,614.50 L246.04,613.90 L249.50,613.50 L252.74,613.34 L256.00,613.37 L259.29,613.55 L262.60,613.88 L265.92,614.32 L269.27,614.84 L272.62,615.43 L275.99,616.06 L279.36,616.71 L282.74,617.35 L286.12,617.95 L289.50,618.50 L292.92,618.98 L296.34,619.38 L299.76,619.71 L303.18,619.98 L306.59,620.19 L310.01,620.34 L313.42,620.45 L316.84,620.52 L320.25,620.55 L323.67,620.56 L327.08,620.54 L330.50,620.50 L333.83,620.45 L337.16,620.40 L340.49,620.33 L343.82,620.26 L347.16,620.18 L350.49,620.09 L353.83,620.00 L357.16,619.91 L360.50,619.81 L363.83,619.71 L367.17,619.60 L370.50,619.50 L373.92,619.39 L377.33,619.29 L380.75,619.19 L384.17,619.09 L387.58,618.99 L391.00,618.90 L394.42,618.81 L397.83,618.74 L401.25,618.66 L404.67,618.60 L408.08,618.54 L411.50,618.50 L414.92,618.47 L418.33,618.44 L421.75,618.43 L425.16,618.42 L428.58,618.42 L432.00,618.42 L435.42,618.43 L438.83,618.44 L442.25,618.45 L445.67,618.47 L449.08,618.49 L452.50,618.50 L455.83,618.51 L459.17,618.52 L462.50,618.53 L465.83,618.54 L469.17,618.54 L472.50,618.55 L475.83,618.55 L479.16,618.54 L482.50,618.54 L485.83,618.53 L489.17,618.52 L492.50,618.50 L495.92,618.48 L499.34,618.45 L502.76,618.42 L506.18,618.38 L509.60,618.33 L513.02,618.26 L516.43,618.18 L519.85,618.09 L523.27,617.97 L526.68,617.84 L530.09,617.68 L533.50,617.50 L536.84,617.30 L540.18,617.08 L543.51,616.84 L546.85,616.59 L550.18,616.32 L553.51,616.05 L556.85,615.78 L560.18,615.51 L563.51,615.24 L566.84,614.98 L570.17,614.73 L573.50,614.50 L576.90,614.28 L580.31,614.08 L583.72,613.89 L587.13,613.71 L590.54,613.55 L593.95,613.39 L597.36,613.24 L600.78,613.10 L604.21,612.95 L607.63,612.80 L611.06,612.65 L614.50,612.50 L617.93,612.34 L621.37,612.18 L624.81,612.03 L628.24,611.90 L631.68,611.79 L635.11,611.72 L638.53,611.69 L641.95,611.72 L645.36,611.80 L648.75,611.96 L652.13,612.18 L655.50,612.50 L658.86,612.91 L662.21,613.39 L665.54,613.95 L668.87,614.55 L672.19,615.19 L675.51,615.85 L678.83,616.53 L682.15,617.19 L685.47,617.84 L688.80,618.44 L692.14,619.00 L695.50,619.50 L698.87,619.92 L702.25,620.27 L705.64,620.56 L709.05,620.79 L712.47,620.97 L715.89,621.11 L719.32,621.21 L722.75,621.29 L726.19,621.36 L729.63,621.41 L733.06,621.45 L736.50,621.50 L739.84,621.56 L743.18,621.62 L746.52,621.70 L749.85,621.78 L753.19,621.86 L756.52,621.95 L759.85,622.04 L763.18,622.14 L766.51,622.23 L769.84,622.32 L773.17,622.41 L776.50,622.50 L779.91,622.58 L783.33,622.66 L786.75,622.73 L790.16,622.78 L793.58,622.82 L797.00,622.84 L800.42,622.85 L803.84,622.83 L807.25,622.79 L810.67,622.72 L814.09,622.63 L817.50,622.50 L820.92,622.34 L824.34,622.16 L827.76,621.95 L831.17,621.74 L834.59,621.52 L838.00,621.31 L841.42,621.10 L844.83,620.92 L848.25,620.75 L851.66,620.63 L855.08,620.54 L858.50,620.50 L861.83,620.51 L865.16,620.57 L868.50,620.65 L871.83,620.77 L875.16,620.90 L878.50,621.04 L881.83,621.17 L885.17,621.29 L888.50,621.40 L891.84,621.47 L895.17,621.51 L898.50,621.50 L901.92,621.43 L905.34,621.32 L908.75,621.16 L912.17,620.98 L915.59,620.77 L919.00,620.55 L922.42,620.33 L925.83,620.11 L929.25,619.91 L932.66,619.73 L936.08,619.60 L939.50,619.50 L942.84,619.46 L946.17,619.46 L949.51,619.51 L952.85,619.61 L956.19,619.74 L959.53,619.90 L962.86,620.11 L966.19,620.34 L969.53,620.59 L972.85,620.88 L976.18,621.18 L979.50,621.50 L982.92,621.85 L986.34,622.20 L989.76,622.57 L993.17,622.94 L996.58,623.31 L1000.00,623.67 L1003.41,624.02 L1006.82,624.36 L1010.24,624.68 L1013.65,624.98 L1017.07,625.26 L1020.50,625.50 L1023.90,625.71 L1027.31,625.88 L1030.72,626.03 L1034.13,626.15 L1037.55,626.25 L1040.97,626.33 L1044.39,626.38 L1047.81,626.43 L1051.23,626.46 L1054.65,626.48 L1058.08,626.49 L1061.50,626.50 L1064.84,626.51 L1068.17,626.51 L1071.51,626.51 L1074.84,626.52 L1078.18,626.52 L1081.51,626.52 L1084.84,626.51 L1088.17,626.51 L1091.51,626.51 L1094.84,626.51 L1098.17,626.50 L1101.50,626.50" fill="none" stroke="#000000" stroke-width="1.02" stroke-linejoin="round"/>
<path d="M85,630h3v1h-3zM84,631h5v1h-5zM83,632h7v1h-7zM83,633h7v1h-7zM83,634h7v1h-7zM84,635h6v1h-6zM85,636h4v1h-4zM126,625h3v1h-3zM125,626h5v1h-5zM124,627h7v1h-7zM124,628h7v1h-7zM124,629h7v1h-7zM125,630h6v1h-6zM126,631h4v1h-4zM166,623h3v1h-3zM165,624h5v1h-5zM164,625h7v1h-7zM164,626h7v1h-7zM164,627h7v1h-7zM165,628h6v1h-6zM166,629h4v1h-4zM207,621h3v1h-3zM206,622h5v1h-5zM205,623h7v1h-7zM205,624h7v1h-7zM205,625h7v1h-7zM206,626h6v1h-6zM207,627h4v1h-4zM248,610h3v1h-3zM247,611h5v1h-5zM246,612h7v1h-7zM246,613h7v1h-7zM246,614h7v1h-7zM247,615h6v1h-6zM248,616h4v1h-4zM288,615h3v1h-3zM287,616h5v1h-5zM286,617h7v1h-7zM286,618h7v1h-7zM286,619h7v1h-7zM287,620h6v1h-6zM288,621h4v1h-4zM329,617h3v1h-3zM328,618h5v1h-5zM327,619h7v1h-7zM327,620h7v1h-7zM327,621h7v1h-7zM328,622h6v1h-6zM329,623h4v1h-4zM369,616h3v1h-3zM368,617h5v1h-5zM367,618h7v1h-7zM367,619h7v1h-7zM367,620h7v1h-7zM368,621h6v1h-6zM369,622h4v1h-4zM410,615h3v1h-3zM409,616h5v1h-5zM408,617h7v1h-7zM408,618h7v1h-7zM408,619h7v1h-7zM409,620h6v1h-6zM410,621h4v1h-4zM451,615h3v1h-3zM450,616h5v1h-5zM449,617h7v1h-7zM449,618h7v1h-7zM449,619h7v1h-7zM450,620h6v1h-6zM451,621h4v1h-4zM491,615h3v1h-3zM490,616h5v1h-5zM489,617h7v1h-7zM489,618h7v1h-7zM489,619h7v1h-7zM490,620h6v1h-6zM491,621h4v1h-4zM532,614h3v1h-3zM531,615h5v1h-5zM530,616h7v1h-7zM530,617h7v1h-7zM530,618h7v1h-7zM531,619h6v1h-6zM532,620h4v1h-4zM572,611h3v1h-3zM571,612h5v1h-5zM570,613h7v1h-7zM570,614h7v1h-7zM570,615h7v1h-7zM571,616h6v1h-6zM572,617h4v1h-4zM613,609h3v1h-3zM612,610h5v1h-5zM611,611h7v1h-7zM611,612h7v1h-7zM611,613h7v1h-7zM612,614h6v1h-6zM613,615h4v1h-4zM654,609h3v1h-3zM653,610h5v1h-5zM652,611h7v1h-7zM652,612h7v1h-7zM652,613h7v1h-7zM653,614h6v1h-6zM654,615h4v1h-4zM694,616h3v1h-3zM693,617h5v1h-5zM692,618h7v1h-7zM692,619h7v1h-7zM692,620h7v1h-7zM693,621h6v1h-6zM694,622h4v1h-4zM735,618h3v1h-3zM734,619h5v1h-5zM733,620h7v1h-7zM733,621h7v1h-7zM733,622h7v1h-7zM734,623h6v1h-6zM735,624h4v1h-4zM775,619h3v1h-3zM774,620h5v1h-5zM773,621h7v1h-7zM773,622h7v1h-7zM773,623h7v1h-7zM774,624h6v1h-6zM775,625h4v1h-4zM816,619h3v1h-3zM815,620h5v1h-5zM814,621h7v1h-7zM814,622h7v1h-7zM814,623h7v1h-7zM815,624h6v1h-6zM816,625h4v1h-4zM857,617h3v1h-3zM856,618h5v1h-5zM855,619h7v1h-7zM855,620h7v1h-7zM855,621h7v1h-7zM856,622h6v1h-6zM857,623h4v1h-4zM897,618h3v1h-3zM896,619h5v1h-5zM895,620h7v1h-7zM895,621h7v1h-7zM895,622h7v1h-7zM896,623h6v1h-6zM897,624h4v1h-4zM938,616h3v1h-3zM937,617h5v1h-5zM936,618h7v1h-7zM936,619h7v1h-7zM936,620h7v1h-7zM937,621h6v1h-6zM938,622h4v1h-4zM978,618h3v1h-3zM977,619h5v1h-5zM976,620h7v1h-7zM976,621h7v1h-7zM976,622h7v1h-7zM977,623h6v1h-6zM978,624h4v1h-4zM1019,622h3v1h-3zM1018,623h5v1h-5zM1017,624h7v1h-7zM1017,625h7v1h-7zM1017,626h7v1h-7zM1018,627h6v1h-6zM1019,628h4v1h-4zM1060,623h3v1h-3zM1059,624h5v1h-5zM1058,625h7v1h-7zM1058,626h7v1h-7zM1058,627h7v1h-7zM1059,628h6v1h-6zM1060,629h4v1h-4zM1100,623h3v1h-3zM1099,624h5v1h-5zM1098,625h7v1h-7zM1098,626h7v1h-7zM1098,627h7v1h-7zM1099,628h6v1h-6zM1100,629h4v1h-4z" fill="#000000" shape-rendering="crispEdges"/>
<path clip-path="url(#lc)" d="M86.50,610.50 L89.87,609.44 L93.25,608.39 L96.63,607.35 L100.01,606.32 L103.40,605.33 L106.80,604.36 L110.21,603.42 L113.64,602.53 L117.08,601.69 L120.53,600.90 L124.01,600.17 L127.50,599.50 L130.74,598.95 L133.99,598.46 L137.26,598.02 L140.55,597.65 L143.86,597.33 L147.19,597.06 L150.53,596.84 L153.89,596.68 L157.27,596.56 L160.66,596.49 L164.07,596.47 L167.50,596.50 L171.03,596.57 L174.56,596.66 L178.09,596.75 L181.62,596.81 L185.12,596.82 L188.61,596.76 L192.06,596.60 L195.46,596.32 L198.82,595.90 L202.12,595.30 L205.35,594.51 L208.50,593.50 L212.17,591.99 L215.74,590.21 L219.22,588.23 L222.63,586.12 L225.99,583.96 L229.31,581.82 L232.62,579.77 L235.93,577.89 L239.25,576.25 L242.61,574.92 L246.02,573.98 L249.50,573.50 L252.58,573.50 L255.72,573.84 L258.92,574.48 L262.17,575.35 L265.46,576.42 L268.80,577.61 L272.18,578.88 L275.59,580.17 L279.03,581.44 L282.50,582.61 L285.99,583.65 L289.50,584.50 L292.88,585.09 L296.27,585.48 L299.67,585.69 L303.08,585.75 L306.50,585.68 L309.92,585.49 L313.35,585.23 L316.78,584.91 L320.21,584.55 L323.64,584.18 L327.07,583.82 L330.50,583.50 L333.84,583.24 L337.18,583.04 L340.52,582.88 L343.86,582.76 L347.19,582.67 L350.52,582.61 L353.85,582.58 L357.18,582.55 L360.51,582.54 L363.84,582.53 L367.17,582.52 L370.50,582.50 L373.91,582.46 L377.33,582.41 L380.74,582.35 L384.16,582.28 L387.58,582.20 L390.99,582.10 L394.41,582.01 L397.83,581.91 L401.25,581.81 L404.66,581.70 L408.08,581.60 L411.50,581.50 L414.92,581.40 L418.34,581.31 L421.75,581.22 L425.17,581.14 L428.59,581.05 L432.00,580.97 L435.42,580.89 L438.84,580.81 L442.25,580.73 L445.67,580.66 L449.08,580.58 L452.50,580.50 L455.83,580.42 L459.16,580.34 L462.50,580.26 L465.83,580.18 L469.16,580.10 L472.50,580.02 L475.83,579.93 L479.16,579.85 L482.50,579.76 L485.83,579.68 L489.16,579.59 L492.50,579.50 L495.93,579.41 L499.35,579.31 L502.78,579.21 L506.20,579.10 L509.62,578.97 L513.04,578.83 L516.46,578.67 L519.88,578.49 L523.29,578.29 L526.70,578.05 L530.10,577.79 L533.50,577.50 L536.85,577.18 L540.20,576.82 L543.54,576.44 L546.88,576.04 L550.21,575.62 L553.54,575.18 L556.87,574.73 L560.20,574.28 L563.53,573.83 L566.85,573.38 L570.18,572.93 L573.50,572.50 L576.89,572.07 L580.28,571.66 L583.67,571.27 L587.07,570.89 L590.47,570.52 L593.88,570.18 L597.29,569.85 L600.71,569.54 L604.14,569.25 L607.59,568.98 L611.04,568.73 L614.50,568.50 L617.95,568.29 L621.40,568.11 L624.86,567.96 L628.32,567.86 L631.78,567.81 L635.22,567.82 L638.66,567.89 L642.08,568.03 L645.48,568.26 L648.85,568.57 L652.19,568.98 L655.50,569.50 L658.91,570.15 L662.29,570.91 L665.63,571.75 L668.96,572.67 L672.27,573.63 L675.56,574.64 L678.86,575.67 L682.16,576.69 L685.46,577.71 L688.79,578.69 L692.13,579.63 L695.50,580.50 L698.81,581.27 L702.15,581.97 L705.51,582.60 L708.90,583.16 L712.31,583.65 L715.73,584.08 L719.17,584.45 L722.63,584.77 L726.09,585.02 L729.56,585.23 L733.03,585.39 L736.50,585.50 L739.84,585.57 L743.18,585.60 L746.51,585.61 L749.85,585.59 L753.18,585.56 L756.51,585.53 L759.84,585.49 L763.17,585.45 L766.50,585.43 L769.84,585.43 L773.17,585.45 L776.50,585.50 L779.92,585.59 L783.34,585.71 L786.76,585.85 L790.18,586.00 L793.60,586.15 L797.02,586.30 L800.44,586.43 L803.85,586.53 L807.27,586.60 L810.68,586.62 L814.09,586.59 L817.50,586.50 L820.92,586.34 L824.34,586.12 L827.75,585.85 L831.17,585.54 L834.58,585.22 L837.99,584.89 L841.40,584.57 L844.82,584.26 L848.23,583.99 L851.65,583.76 L855.07,583.60 L858.50,583.50 L861.83,583.48 L865.17,583.53 L868.50,583.63 L871.84,583.77 L875.18,583.93 L878.52,584.10 L881.86,584.26 L885.19,584.41 L888.52,584.52 L891.85,584.58 L895.18,584.58 L898.50,584.50 L901.93,584.33 L905.35,584.08 L908.76,583.76 L912.18,583.39 L915.59,582.98 L919.00,582.56 L922.41,582.13 L925.82,581.72 L929.23,581.33 L932.65,580.99 L936.07,580.71 L939.50,580.50 L942.84,580.38 L946.18,580.34 L949.53,580.38 L952.88,580.50 L956.22,580.68 L959.57,580.92 L962.91,581.23 L966.25,581.59 L969.57,582.00 L972.89,582.46 L976.20,582.96 L979.50,583.50 L982.94,584.10 L986.36,584.73 L989.78,585.38 L993.19,586.03 L996.59,586.69 L999.99,587.33 L1003.39,587.96 L1006.80,588.56 L1010.21,589.13 L1013.63,589.64 L1017.06,590.10 L1020.50,590.50 L1023.87,590.82 L1027.25,591.07 L1030.65,591.26 L1034.06,591.41 L1037.47,591.51 L1040.89,591.57 L1044.32,591.60 L1047.76,591.60 L1051.19,591.59 L1054.63,591.56 L1058.07,591.53 L1061.50,591.50 L1064.85,591.48 L1068.19,591.46 L1071.53,591.45 L1074.86,591.44 L1078.20,591.44 L1081.53,591.44 L1084.86,591.44 L1088.19,591.45 L1091.52,591.46 L1094.85,591.47 L1098.17,591.49 L1101.50,591.50" fill="none" stroke="#0000ff" stroke-width="1.02" stroke-linejoin="round"/>
<path d="M85,607h3v1h-3zM84,608h5v1h-5zM83,609h7v1h-7zM83,610h7v1h-7zM83,611h7v1h-7zM84,612h6v1h-6zM85,613h4v1h-4zM126,596h3v1h-3zM125,597h5v1h-5zM124,598h7v1h-7zM124,599h7v1h-7zM124,600h7v1h-7zM125,601h6v1h-6zM126,602h4v1h-4zM166,593h3v1h-3zM165,594h5v1h-5zM164,595h7v1h-7zM164,596h7v1h-7zM164,597h7v1h-7zM165,598h6v1h-6zM166,599h4v1h-4zM207,590h3v1h-3zM206,591h5v1h-5zM205,592h7v1h-7zM205,593h7v1h-7zM205,594h7v1h-7zM206,595h6v1h-6zM207,596h4v1h-4zM248,570h3v1h-3zM247,571h5v1h-5zM246,572h7v1h-7zM246,573h7v1h-7zM246,574h7v1h-7zM247,575h6v1h-6zM248,576h4v1h-4zM288,581h3v1h-3zM287,582h5v1h-5zM286,583h7v1h-7zM286,584h7v1h-7zM286,585h7v1h-7zM287,586h6v1h-6zM288,587h4v1h-4zM329,580h3v1h-3zM328,581h5v1h-5zM327,582h7v1h-7zM327,583h7v1h-7zM327,584h7v1h-7zM328,585h6v1h-6zM329,586h4v1h-4zM369,579h3v1h-3zM368,580h5v1h-5zM367,581h7v1h-7zM367,582h7v1h-7zM367,583h7v1h-7zM368,584h6v1h-6zM369,585h4v1h-4zM410,578h3v1h-3zM409,579h5v1h-5zM408,580h7v1h-7zM408,581h7v1h-7zM408,582h7v1h-7zM409,583h6v1h-6zM410,584h4v1h-4zM451,577h3v1h-3zM450,578h5v1h-5zM449,579h7v1h-7zM449,580h7v1h-7zM449,581h7v1h-7zM450,582h6v1h-6zM451,583h4v1h-4zM491,576h3v1h-3zM490,577h5v1h-5zM489,578h7v1h-7zM489,579h7v1h-7zM489,580h7v1h-7zM490,581h6v1h-6zM491,582h4v1h-4zM532,574h3v1h-3zM531,575h5v1h-5zM530,576h7v1h-7zM530,577h7v1h-7zM530,578h7v1h-7zM531,579h6v1h-6zM532,580h4v1h-4zM572,569h3v1h-3zM571,570h5v1h-5zM570,571h7v1h-7zM570,572h7v1h-7zM570,573h7v1h-7zM571,574h6v1h-6zM572,575h4v1h-4zM613,565h3v1h-3zM612,566h5v1h-5zM611,567h7v1h-7zM611,568h7v1h-7zM611,569h7v1h-7zM612,570h6v1h-6zM613,571h4v1h-4zM654,566h3v1h-3zM653,567h5v1h-5zM652,568h7v1h-7zM652,569h7v1h-7zM652,570h7v1h-7zM653,571h6v1h-6zM654,572h4v1h-4zM694,577h3v1h-3zM693,578h5v1h-5zM692,579h7v1h-7zM692,580h7v1h-7zM692,581h7v1h-7zM693,582h6v1h-6zM694,583h4v1h-4zM735,582h3v1h-3zM734,583h5v1h-5zM733,584h7v1h-7zM733,585h7v1h-7zM733,586h7v1h-7zM734,587h6v1h-6zM735,588h4v1h-4zM775,582h3v1h-3zM774,583h5v1h-5zM773,584h7v1h-7zM773,585h7v1h-7zM773,586h7v1h-7zM774,587h6v1h-6zM775,588h4v1h-4zM816,583h3v1h-3zM815,584h5v1h-5zM814,585h7v1h-7zM814,586h7v1h-7zM814,587h7v1h-7zM815,588h6v1h-6zM816,589h4v1h-4zM857,580h3v1h-3zM856,581h5v1h-5zM855,582h7v1h-7zM855,583h7v1h-7zM855,584h7v1h-7zM856,585h6v1h-6zM857,586h4v1h-4zM897,581h3v1h-3zM896,582h5v1h-5zM895,583h7v1h-7zM895,584h7v1h-7zM895,585h7v1h-7zM896,586h6v1h-6zM897,587h4v1h-4zM938,577h3v1h-3zM937,578h5v1h-5zM936,579h7v1h-7zM936,580h7v1h-7zM936,581h7v1h-7zM937,582h6v1h-6zM938,583h4v1h-4zM978,580h3v1h-3zM977,581h5v1h-5zM976,582h7v1h-7zM976,583h7v1h-7zM976,584h7v1h-7zM977,585h6v1h-6zM978,586h4v1h-4zM1019,587h3v1h-3zM1018,588h5v1h-5zM1017,589h7v1h-7zM1017,590h7v1h-7zM1017,591h7v1h-7zM1018,592h6v1h-6zM1019,593h4v1h-4zM1060,588h3v1h-3zM1059,589h5v1h-5zM1058,590h7v1h-7zM1058,591h7v1h-7zM1058,592h7v1h-7zM1059,593h6v1h-6zM1060,594h4v1h-4zM1100,588h3v1h-3zM1099,589h5v1h-5zM1098,590h7v1h-7zM1098,591h7v1h-7zM1098,592h7v1h-7zM1099,593h6v1h-6zM1100,594h4v1h-4z" fill="#0000ff" shape-rendering="crispEdges"/>
<path clip-path="url(#lc)" d="M86.50,574.50 L89.50,571.33 L92.52,568.18 L95.57,565.08 L98.67,562.05 L101.85,559.12 L105.11,556.32 L108.48,553.67 L111.97,551.19 L115.60,548.91 L119.38,546.85 L123.35,545.04 L127.50,543.50 L130.46,542.62 L133.51,541.86 L136.64,541.23 L139.86,540.71 L143.14,540.29 L146.48,539.97 L149.89,539.73 L153.34,539.57 L156.83,539.47 L160.36,539.43 L163.92,539.45 L167.50,539.50 L171.20,539.58 L174.90,539.67 L178.58,539.74 L182.24,539.75 L185.84,539.68 L189.39,539.50 L192.86,539.18 L196.23,538.69 L199.50,538.01 L202.64,537.10 L205.65,535.94 L208.50,534.50 L213.24,531.15 L217.50,527.00 L221.34,522.26 L224.85,517.15 L228.10,511.88 L231.15,506.66 L234.08,501.71 L236.97,497.25 L239.88,493.48 L242.89,490.62 L246.07,488.89 L249.50,488.50 L252.08,489.11 L254.81,490.36 L257.69,492.15 L260.71,494.35 L263.87,496.87 L267.16,499.58 L270.58,502.36 L274.13,505.12 L277.80,507.72 L281.59,510.06 L285.49,512.02 L289.50,513.50 L292.72,514.26 L296.00,514.68 L299.33,514.81 L302.71,514.70 L306.12,514.36 L309.56,513.86 L313.03,513.23 L316.52,512.50 L320.01,511.73 L323.51,510.94 L327.01,510.19 L330.50,509.50 L333.88,508.93 L337.24,508.45 L340.59,508.06 L343.94,507.74 L347.27,507.48 L350.59,507.27 L353.92,507.10 L357.23,506.96 L360.55,506.84 L363.86,506.73 L367.18,506.62 L370.50,506.50 L373.90,506.35 L377.30,506.19 L380.70,506.01 L384.11,505.81 L387.53,505.62 L390.94,505.42 L394.36,505.23 L397.78,505.05 L401.21,504.88 L404.64,504.73 L408.07,504.60 L411.50,504.50 L414.93,504.43 L418.36,504.38 L421.79,504.36 L425.21,504.33 L428.64,504.31 L432.06,504.28 L435.48,504.24 L438.90,504.17 L442.31,504.07 L445.71,503.93 L449.11,503.74 L452.50,503.50 L455.84,503.20 L459.18,502.85 L462.51,502.45 L465.84,502.02 L469.17,501.56 L472.49,501.09 L475.82,500.62 L479.14,500.15 L482.47,499.69 L485.81,499.26 L489.15,498.86 L492.50,498.50 L495.91,498.19 L499.33,497.92 L502.75,497.69 L506.18,497.48 L509.61,497.28 L513.04,497.09 L516.47,496.90 L519.89,496.69 L523.31,496.45 L526.72,496.18 L530.11,495.87 L533.50,495.50 L536.89,495.07 L540.27,494.57 L543.64,494.02 L546.99,493.43 L550.34,492.79 L553.67,492.11 L556.99,491.39 L560.31,490.65 L563.62,489.88 L566.92,489.10 L570.21,488.30 L573.50,487.50 L576.86,486.68 L580.22,485.86 L583.58,485.05 L586.95,484.26 L590.33,483.50 L593.72,482.77 L597.12,482.08 L600.55,481.44 L603.99,480.86 L607.46,480.33 L610.97,479.88 L614.50,479.50 L617.96,479.21 L621.45,479.00 L624.95,478.89 L628.46,478.86 L631.96,478.93 L635.45,479.10 L638.91,479.37 L642.34,479.76 L645.72,480.26 L649.05,480.88 L652.31,481.63 L655.50,482.50 L659.04,483.65 L662.49,484.95 L665.86,486.38 L669.17,487.90 L672.44,489.49 L675.68,491.13 L678.91,492.79 L682.15,494.44 L685.41,496.06 L688.71,497.63 L692.07,499.12 L695.50,500.50 L698.67,501.64 L701.91,502.67 L705.20,503.61 L708.55,504.46 L711.95,505.22 L715.38,505.90 L718.86,506.49 L722.35,507.02 L725.87,507.48 L729.41,507.88 L732.95,508.21 L736.50,508.50 L739.84,508.73 L743.18,508.91 L746.52,509.07 L749.85,509.19 L753.18,509.28 L756.51,509.35 L759.84,509.41 L763.17,509.44 L766.50,509.47 L769.83,509.48 L773.17,509.49 L776.50,509.50 L779.92,509.51 L783.34,509.52 L786.77,509.52 L790.19,509.52 L793.61,509.49 L797.04,509.45 L800.46,509.38 L803.87,509.28 L807.29,509.15 L810.70,508.98 L814.10,508.76 L817.50,508.50 L820.92,508.18 L824.33,507.82 L827.75,507.43 L831.15,507.03 L834.56,506.61 L837.97,506.20 L841.38,505.81 L844.79,505.44 L848.21,505.12 L851.63,504.84 L855.06,504.63 L858.50,504.50 L861.84,504.45 L865.18,504.46 L868.53,504.52 L871.88,504.62 L875.23,504.73 L878.58,504.83 L881.92,504.92 L885.26,504.97 L888.59,504.97 L891.91,504.91 L895.21,504.75 L898.50,504.50 L901.94,504.11 L905.37,503.61 L908.78,503.03 L912.19,502.38 L915.59,501.69 L918.98,500.97 L922.38,500.26 L925.78,499.57 L929.19,498.93 L932.61,498.36 L936.05,497.87 L939.50,497.50 L942.83,497.27 L946.18,497.15 L949.54,497.15 L952.90,497.26 L956.27,497.47 L959.63,497.78 L962.99,498.19 L966.34,498.69 L969.66,499.27 L972.97,499.94 L976.25,500.68 L979.50,501.50 L982.98,502.46 L986.42,503.47 L989.84,504.53 L993.24,505.60 L996.62,506.67 L1000.00,507.73 L1003.37,508.74 L1006.76,509.69 L1010.15,510.56 L1013.57,511.34 L1017.02,511.99 L1020.50,512.50 L1023.81,512.84 L1027.14,513.06 L1030.51,513.16 L1033.91,513.17 L1037.32,513.09 L1040.75,512.95 L1044.20,512.75 L1047.65,512.52 L1051.12,512.26 L1054.58,512.00 L1058.04,511.74 L1061.50,511.50 L1064.86,511.30 L1068.22,511.13 L1071.57,510.98 L1074.91,510.87 L1078.25,510.77 L1081.58,510.70 L1084.91,510.64 L1088.23,510.59 L1091.55,510.56 L1094.87,510.54 L1098.18,510.52 L1101.50,510.50" fill="none" stroke="#9acd32" stroke-width="1.02" stroke-linejoin="round"/>
<path d="M85,571h3v1h-3zM84,572h5v1h-5zM83,573h7v1h-7zM83,574h7v1h-7zM83,575h7v1h-7zM84,576h6v1h-6zM85,577h4v1h-4zM126,540h3v1h-3zM125,541h5v1h-5zM124,542h7v1h-7zM124,543h7v1h-7zM124,544h7v1h-7zM125,545h6v1h-6zM126,546h4v1h-4zM166,536h3v1h-3zM165,537h5v1h-5zM164,538h7v1h-7zM164,539h7v1h-7zM164,540h7v1h-7zM165,541h6v1h-6zM166,542h4v1h-4zM207,531h3v1h-3zM206,532h5v1h-5zM205,533h7v1h-7zM205,534h7v1h-7zM205,535h7v1h-7zM206,536h6v1h-6zM207,537h4v1h-4zM248,485h3v1h-3zM247,486h5v1h-5zM246,487h7v1h-7zM246,488h7v1h-7zM246,489h7v1h-7zM247,490h6v1h-6zM248,491h4v1h-4zM288,510h3v1h-3zM287,511h5v1h-5zM286,512h7v1h-7zM286,513h7v1h-7zM286,514h7v1h-7zM287,515h6v1h-6zM288,516h4v1h-4zM329,506h3v1h-3zM328,507h5v1h-5zM327,508h7v1h-7zM327,509h7v1h-7zM327,510h7v1h-7zM328,511h6v1h-6zM329,512h4v1h-4zM369,503h3v1h-3zM368,504h5v1h-5zM367,505h7v1h-7zM367,506h7v1h-7zM367,507h7v1h-7zM368,508h6v1h-6zM369,509h4v1h-4zM410,501h3v1h-3zM409,502h5v1h-5zM408,503h7v1h-7zM408,504h7v1h-7zM408,505h7v1h-7zM409,506h6v1h-6zM410,507h4v1h-4zM451,500h3v1h-3zM450,501h5v1h-5zM449,502h7v1h-7zM449,503h7v1h-7zM449,504h7v1h-7zM450,505h6v1h-6zM451,506h4v1h-4zM491,495h3v1h-3zM490,496h5v1h-5zM489,497h7v1h-7zM489,498h7v1h-7zM489,499h7v1h-7zM490,500h6v1h-6zM491,501h4v1h-4zM532,492h3v1h-3zM531,493h5v1h-5zM530,494h7v1h-7zM530,495h7v1h-7zM530,496h7v1h-7zM531,497h6v1h-6zM532,498h4v1h-4zM572,484h3v1h-3zM571,485h5v1h-5zM570,486h7v1h-7zM570,487h7v1h-7zM570,488h7v1h-7zM571,489h6v1h-6zM572,490h4v1h-4zM613,476h3v1h-3zM612,477h5v1h-5zM611,478h7v1h-7zM611,479h7v1h-7zM611,480h7v1h-7zM612,481h6v1h-6zM613,482h4v1h-4zM654,479h3v1h-3zM653,480h5v1h-5zM652,481h7v1h-7zM652,482h7v1h-7zM652,483h7v1h-7zM653,484h6v1h-6zM654,485h4v1h-4zM694,497h3v1h-3zM693,498h5v1h-5zM692,499h7v1h-7zM692,500h7v1h-7zM692,501h7v1h-7zM693,502h6v1h-6zM694,503h4v1h-4zM735,505h3v1h-3zM734,506h5v1h-5zM733,507h7v1h-7zM733,508h7v1h-7zM733,509h7v1h-7zM734,510h6v1h-6zM735,511h4v1h-4zM775,506h3v1h-3zM774,507h5v1h-5zM773,508h7v1h-7zM773,509h7v1h-7zM773,510h7v1h-7zM774,511h6v1h-6zM775,512h4v1h-4zM816,505h3v1h-3zM815,506h5v1h-5zM814,507h7v1h-7zM814,508h7v1h-7zM814,509h7v1h-7zM815,510h6v1h-6zM816,511h4v1h-4zM857,501h3v1h-3zM856,502h5v1h-5zM855,503h7v1h-7zM855,504h7v1h-7zM855,505h7v1h-7zM856,506h6v1h-6zM857,507h4v1h-4zM897,501h3v1h-3zM896,502h5v1h-5zM895,503h7v1h-7zM895,504h7v1h-7zM895,505h7v1h-7zM896,506h6v1h-6zM897,507h4v1h-4zM938,494h3v1h-3zM937,495h5v1h-5zM936,496h7v1h-7zM936,497h7v1h-7zM936,498h7v1h-7zM937,499h6v1h-6zM938,500h4v1h-4zM978,498h3v1h-3zM977,499h5v1h-5zM976,500h7v1h-7zM976,501h7v1h-7zM976,502h7v1h-7zM977,503h6v1h-6zM978,504h4v1h-4zM1019,509h3v1h-3zM1018,510h5v1h-5zM1017,511h7v1h-7zM1017,512h7v1h-7zM1017,513h7v1h-7zM1018,514h6v1h-6zM1019,515h4v1h-4zM1060,508h3v1h-3zM1059,509h5v1h-5zM1058,510h7v1h-7zM1058,511h7v1h-7zM1058,512h7v1h-7zM1059,513h6v1h-6zM1060,514h4v1h-4zM1100,507h3v1h-3zM1099,508h5v1h-5zM1098,509h7v1h-7zM1098,510h7v1h-7zM1098,511h7v1h-7zM1099,512h6v1h-6zM1100,513h4v1h-4z" fill="#9acd32" shape-rendering="crispEdges"/>
<path clip-path="url(#lc)" d="M86.50,482.50 L86.85,472.02 L87.32,461.63 L88.05,451.44 L89.17,441.54 L90.81,432.02 L93.09,423.00 L96.14,414.56 L100.09,406.79 L105.08,399.81 L111.22,393.70 L118.65,388.57 L127.50,384.50 L130.40,383.52 L133.43,382.62 L136.56,381.81 L139.79,381.07 L143.10,380.39 L146.48,379.76 L149.92,379.18 L153.40,378.62 L156.91,378.09 L160.44,377.56 L163.97,377.04 L167.50,376.50 L171.28,375.90 L175.02,375.26 L178.72,374.57 L182.37,373.81 L185.95,372.97 L189.46,372.03 L192.89,370.98 L196.23,369.80 L199.47,368.47 L202.60,366.99 L205.62,365.34 L208.50,363.50 L219.99,352.69 L228.93,338.58 L235.65,322.09 L240.47,304.12 L243.72,285.61 L245.71,267.46 L246.78,250.59 L247.24,235.92 L247.42,224.35 L247.64,216.82 L248.23,214.23 L249.50,217.50 L250.54,221.75 L251.89,227.50 L253.58,234.38 L255.64,242.05 L258.11,250.15 L261.02,258.34 L264.40,266.25 L268.28,273.55 L272.70,279.88 L277.68,284.88 L283.27,288.20 L289.50,289.50 L292.47,289.35 L295.55,288.79 L298.75,287.87 L302.04,286.64 L305.42,285.17 L308.87,283.51 L312.38,281.70 L315.95,279.81 L319.56,277.89 L323.19,276.00 L326.84,274.18 L330.50,272.50 L333.81,271.13 L337.12,269.89 L340.43,268.78 L343.75,267.77 L347.06,266.85 L350.38,266.01 L353.70,265.21 L357.04,264.46 L360.38,263.73 L363.74,263.00 L367.11,262.27 L370.50,261.50 L373.85,260.71 L377.22,259.89 L380.61,259.07 L384.01,258.26 L387.42,257.49 L390.84,256.76 L394.27,256.10 L397.70,255.53 L401.15,255.07 L404.59,254.73 L408.05,254.53 L411.50,254.50 L414.91,254.64 L418.32,254.92 L421.73,255.32 L425.15,255.82 L428.56,256.37 L431.98,256.95 L435.39,257.54 L438.81,258.10 L442.23,258.61 L445.65,259.03 L449.08,259.33 L452.50,259.50 L455.92,259.50 L459.33,259.34 L462.74,259.04 L466.14,258.60 L469.53,258.03 L472.89,257.35 L476.24,256.57 L479.56,255.69 L482.85,254.74 L486.10,253.71 L489.32,252.63 L492.50,251.50 L496.11,250.15 L499.67,248.76 L503.17,247.34 L506.64,245.87 L510.06,244.38 L513.46,242.87 L516.83,241.33 L520.18,239.78 L523.51,238.22 L526.84,236.65 L530.17,235.07 L533.50,233.50 L536.88,231.91 L540.27,230.32 L543.66,228.73 L547.05,227.14 L550.43,225.53 L553.79,223.90 L557.14,222.25 L560.47,220.57 L563.78,218.86 L567.06,217.12 L570.30,215.33 L573.50,213.50 L576.72,211.59 L579.91,209.65 L583.10,207.70 L586.29,205.77 L589.52,203.87 L592.80,202.04 L596.14,200.28 L599.57,198.63 L603.10,197.10 L606.75,195.72 L610.55,194.52 L614.50,193.50 L617.92,192.81 L621.44,192.28 L625.03,191.90 L628.65,191.67 L632.28,191.59 L635.89,191.67 L639.45,191.91 L642.93,192.30 L646.30,192.86 L649.54,193.58 L652.62,194.46 L655.50,195.50 L660.94,198.26 L665.52,201.69 L669.38,205.69 L672.65,210.17 L675.50,215.05 L678.06,220.22 L680.47,225.60 L682.89,231.11 L685.46,236.64 L688.32,242.11 L691.62,247.42 L695.50,252.50 L698.03,255.25 L700.77,257.88 L703.72,260.37 L706.85,262.69 L710.15,264.84 L713.60,266.80 L717.19,268.54 L720.89,270.06 L724.69,271.33 L728.57,272.34 L732.51,273.07 L736.50,273.50 L739.78,273.63 L743.07,273.57 L746.38,273.34 L749.70,272.98 L753.03,272.49 L756.37,271.90 L759.72,271.24 L763.07,270.51 L766.43,269.76 L769.79,268.99 L773.15,268.23 L776.50,267.50 L779.95,266.80 L783.40,266.14 L786.84,265.53 L790.28,264.95 L793.71,264.39 L797.13,263.85 L800.55,263.32 L803.95,262.79 L807.35,262.25 L810.74,261.69 L814.13,261.11 L817.50,260.50 L820.92,259.84 L824.34,259.15 L827.74,258.42 L831.15,257.68 L834.55,256.91 L837.96,256.13 L841.36,255.34 L844.77,254.56 L848.19,253.77 L851.62,253.00 L855.05,252.24 L858.50,251.50 L861.96,250.79 L865.42,250.08 L868.88,249.38 L872.32,248.65 L875.75,247.90 L879.15,247.10 L882.52,246.24 L885.84,245.30 L889.11,244.27 L892.31,243.14 L895.44,241.89 L898.50,240.50 L902.03,238.67 L905.46,236.68 L908.81,234.57 L912.12,232.40 L915.39,230.21 L918.66,228.06 L921.95,225.98 L925.28,224.03 L928.67,222.26 L932.16,220.72 L935.76,219.45 L939.50,218.50 L942.59,218.00 L945.77,217.72 L949.03,217.64 L952.35,217.76 L955.72,218.04 L959.12,218.48 L962.54,219.06 L965.97,219.76 L969.40,220.57 L972.80,221.48 L976.17,222.46 L979.50,223.50 L983.06,224.68 L986.55,225.90 L990.00,227.13 L993.40,228.35 L996.78,229.55 L1000.14,230.70 L1003.49,231.78 L1006.84,232.78 L1010.21,233.67 L1013.60,234.43 L1017.03,235.05 L1020.50,235.50 L1023.80,235.76 L1027.14,235.87 L1030.52,235.84 L1033.93,235.69 L1037.36,235.42 L1040.81,235.06 L1044.26,234.61 L1047.73,234.08 L1051.19,233.50 L1054.64,232.86 L1058.08,232.19 L1061.50,231.50 L1064.93,230.79 L1068.34,230.06 L1071.72,229.33 L1075.08,228.59 L1078.43,227.85 L1081.75,227.09 L1085.07,226.34 L1088.37,225.57 L1091.66,224.81 L1094.94,224.04 L1098.22,223.27 L1101.50,222.50" fill="none" stroke="#ffe0c0" stroke-width="1.02" stroke-linejoin="round"/>
<path d="M85,479h3v1h-3zM84,480h5v1h-5zM83,481h7v1h-7zM83,482h7v1h-7zM83,483h7v1h-7zM84,484h6v1h-6zM85,485h4v1h-4zM126,381h3v1h-3zM125,382h5v1h-5zM124,383h7v1h-7zM124,384h7v1h-7zM124,385h7v1h-7zM125,386h6v1h-6zM126,387h4v1h-4zM166,373h3v1h-3zM165,374h5v1h-5zM164,375h7v1h-7zM164,376h7v1h-7zM164,377h7v1h-7zM165,378h6v1h-6zM166,379h4v1h-4zM207,360h3v1h-3zM206,361h5v1h-5zM205,362h7v1h-7zM205,363h7v1h-7zM205,364h7v1h-7zM206,365h6v1h-6zM207,366h4v1h-4zM248,214h3v1h-3zM247,215h5v1h-5zM246,216h7v1h-7zM246,217h7v1h-7zM246,218h7v1h-7zM247,219h6v1h-6zM248,220h4v1h-4zM288,286h3v1h-3zM287,287h5v1h-5zM286,288h7v1h-7zM286,289h7v1h-7zM286,290h7v1h-7zM287,291h6v1h-6zM288,292h4v1h-4zM329,269h3v1h-3zM328,270h5v1h-5zM327,271h7v1h-7zM327,272h7v1h-7zM327,273h7v1h-7zM328,274h6v1h-6zM329,275h4v1h-4zM369,258h3v1h-3zM368,259h5v1h-5zM367,260h7v1h-7zM367,261h7v1h-7zM367,262h7v1h-7zM368,263h6v1h-6zM369,264h4v1h-4zM410,251h3v1h-3zM409,252h5v1h-5zM408,253h7v1h-7zM408,254h7v1h-7zM408,255h7v1h-7zM409,256h6v1h-6zM410,257h4v1h-4zM451,256h3v1h-3zM450,257h5v1h-5zM449,258h7v1h-7zM449,259h7v1h-7zM449,260h7v1h-7zM450,261h6v1h-6zM451,262h4v1h-4zM491,248h3v1h-3zM490,249h5v1h-5zM489,250h7v1h-7zM489,251h7v1h-7zM489,252h7v1h-7zM490,253h6v1h-6zM491,254h4v1h-4zM532,230h3v1h-3zM531,231h5v1h-5zM530,232h7v1h-7zM530,233h7v1h-7zM530,234h7v1h-7zM531,235h6v1h-6zM532,236h4v1h-4zM572,210h3v1h-3zM571,211h5v1h-5zM570,212h7v1h-7zM570,213h7v1h-7zM570,214h7v1h-7zM571,215h6v1h-6zM572,216h4v1h-4zM613,190h3v1h-3zM612,191h5v1h-5zM611,192h7v1h-7zM611,193h7v1h-7zM611,194h7v1h-7zM612,195h6v1h-6zM613,196h4v1h-4zM654,192h3v1h-3zM653,193h5v1h-5zM652,194h7v1h-7zM652,195h7v1h-7zM652,196h7v1h-7zM653,197h6v1h-6zM654,198h4v1h-4zM694,249h3v1h-3zM693,250h5v1h-5zM692,251h7v1h-7zM692,252h7v1h-7zM692,253h7v1h-7zM693,254h6v1h-6zM694,255h4v1h-4zM735,270h3v1h-3zM734,271h5v1h-5zM733,272h7v1h-7zM733,273h7v1h-7zM733,274h7v1h-7zM734,275h6v1h-6zM735,276h4v1h-4zM775,264h3v1h-3zM774,265h5v1h-5zM773,266h7v1h-7zM773,267h7v1h-7zM773,268h7v1h-7zM774,269h6v1h-6zM775,270h4v1h-4zM816,257h3v1h-3zM815,258h5v1h-5zM814,259h7v1h-7zM814,260h7v1h-7zM814,261h7v1h-7zM815,262h6v1h-6zM816,263h4v1h-4zM857,248h3v1h-3zM856,249h5v1h-5zM855,250h7v1h-7zM855,251h7v1h-7zM855,252h7v1h-7zM856,253h6v1h-6zM857,254h4v1h-4zM897,237h3v1h-3zM896,238h5v1h-5zM895,239h7v1h-7zM895,240h7v1h-7zM895,241h7v1h-7zM896,242h6v1h-6zM897,243h4v1h-4zM938,215h3v1h-3zM937,216h5v1h-5zM936,217h7v1h-7zM936,218h7v1h-7zM936,219h7v1h-7zM937,220h6v1h-6zM938,221h4v1h-4zM978,220h3v1h-3zM977,221h5v1h-5zM976,222h7v1h-7zM976,223h7v1h-7zM976,224h7v1h-7zM977,225h6v1h-6zM978,226h4v1h-4zM1019,232h3v1h-3zM1018,233h5v1h-5zM1017,234h7v1h-7zM1017,235h7v1h-7zM1017,236h7v1h-7zM1018,237h6v1h-6zM1019,238h4v1h-4zM1060,228h3v1h-3zM1059,229h5v1h-5zM1058,230h7v1h-7zM1058,231h7v1h-7zM1058,232h7v1h-7zM1059,233h6v1h-6zM1060,234h4v1h-4zM1100,219h3v1h-3zM1099,220h5v1h-5zM1098,221h7v1h-7zM1098,222h7v1h-7zM1098,223h7v1h-7zM1099,224h6v1h-6zM1100,225h4v1h-4z" fill="#ffe0c0" shape-rendering="crispEdges"/>
</g>
<rect x="83.5" y="49.5" width="1022" height="637" fill="none" stroke="#949a9e" stroke-width="1"/>
<rect x="198.5" y="748.5" width="725" height="38" fill="none" stroke="#000" stroke-width="1"/>
<rect x="226" y="759" width="36" height="1" fill="#ff0000" shape-rendering="crispEdges"/>
<path d="M228,756h3v1h-3zM227,757h5v1h-5zM226,758h7v1h-7zM226,759h7v1h-7zM226,760h7v1h-7zM227,761h6v1h-6zM228,762h4v1h-4zM242,756h3v1h-3zM241,757h5v1h-5zM240,758h7v1h-7zM240,759h7v1h-7zM240,760h7v1h-7zM241,761h6v1h-6zM242,762h4v1h-4zM256,756h3v1h-3zM255,757h5v1h-5zM254,758h7v1h-7zM254,759h7v1h-7zM254,760h7v1h-7zM255,761h6v1h-6zM256,762h4v1h-4z" fill="#ff0000" shape-rendering="crispEdges"/>
<text x="268.6" y="764" font-family="Liberation Sans" font-size="12" textLength="68.1" fill="#000" stroke="#000" stroke-width="0.1">Gennemsnit</text>
<rect x="368" y="759" width="36" height="1" fill="#158a88" shape-rendering="crispEdges"/>
<path d="M371,756h3v1h-3zM370,757h5v1h-5zM369,758h7v1h-7zM369,759h7v1h-7zM369,760h7v1h-7zM370,761h6v1h-6zM371,762h4v1h-4zM385,756h3v1h-3zM384,757h5v1h-5zM383,758h7v1h-7zM383,759h7v1h-7zM383,760h7v1h-7zM384,761h6v1h-6zM385,762h4v1h-4zM399,756h3v1h-3zM398,757h5v1h-5zM397,758h7v1h-7zM397,759h7v1h-7zM397,760h7v1h-7zM398,761h6v1h-6zM399,762h4v1h-4z" fill="#158a88" shape-rendering="crispEdges"/>
<text x="410.3" y="764" font-family="Liberation Sans" font-size="12" textLength="74.2" fill="#000" stroke="#000" stroke-width="0.1">10% percentil</text>
<rect x="510" y="759" width="36" height="1" fill="#99283c" shape-rendering="crispEdges"/>
<path d="M513,756h3v1h-3zM512,757h5v1h-5zM511,758h7v1h-7zM511,759h7v1h-7zM511,760h7v1h-7zM512,761h6v1h-6zM513,762h4v1h-4zM527,756h3v1h-3zM526,757h5v1h-5zM525,758h7v1h-7zM525,759h7v1h-7zM525,760h7v1h-7zM526,761h6v1h-6zM527,762h4v1h-4zM541,756h3v1h-3zM540,757h5v1h-5zM539,758h7v1h-7zM539,759h7v1h-7zM539,760h7v1h-7zM540,761h6v1h-6zM541,762h4v1h-4z" fill="#99283c" shape-rendering="crispEdges"/>
<text x="552.4" y="764" font-family="Liberation Sans" font-size="12" textLength="74.2" fill="#000" stroke="#000" stroke-width="0.1">20% percentil</text>
<rect x="653" y="759" width="36" height="1" fill="#3c3a78" shape-rendering="crispEdges"/>
<path d="M655,756h3v1h-3zM654,757h5v1h-5zM653,758h7v1h-7zM653,759h7v1h-7zM653,760h7v1h-7zM654,761h6v1h-6zM655,762h4v1h-4zM669,756h3v1h-3zM668,757h5v1h-5zM667,758h7v1h-7zM667,759h7v1h-7zM667,760h7v1h-7zM668,761h6v1h-6zM669,762h4v1h-4zM683,756h3v1h-3zM682,757h5v1h-5zM681,758h7v1h-7zM681,759h7v1h-7zM681,760h7v1h-7zM682,761h6v1h-6zM683,762h4v1h-4z" fill="#3c3a78" shape-rendering="crispEdges"/>
<text x="695.5" y="764" font-family="Liberation Sans" font-size="12" textLength="74.2" fill="#000" stroke="#000" stroke-width="0.1">30% percentil</text>
<rect x="795" y="759" width="36" height="1" fill="#ff69b4" shape-rendering="crispEdges"/>
<path d="M797,756h3v1h-3zM796,757h5v1h-5zM795,758h7v1h-7zM795,759h7v1h-7zM795,760h7v1h-7zM796,761h6v1h-6zM797,762h4v1h-4zM811,756h3v1h-3zM810,757h5v1h-5zM809,758h7v1h-7zM809,759h7v1h-7zM809,760h7v1h-7zM810,761h6v1h-6zM811,762h4v1h-4zM825,756h3v1h-3zM824,757h5v1h-5zM823,758h7v1h-7zM823,759h7v1h-7zM823,760h7v1h-7zM824,761h6v1h-6zM825,762h4v1h-4z" fill="#ff69b4" shape-rendering="crispEdges"/>
<text x="837.8" y="764" font-family="Liberation Sans" font-size="12" textLength="74.2" fill="#000" stroke="#000" stroke-width="0.1">40% percentil</text>
<rect x="226" y="773" width="36" height="1" fill="#008000" shape-rendering="crispEdges"/>
<path d="M228,770h3v1h-3zM227,771h5v1h-5zM226,772h7v1h-7zM226,773h7v1h-7zM226,774h7v1h-7zM227,775h6v1h-6zM228,776h4v1h-4zM242,770h3v1h-3zM241,771h5v1h-5zM240,772h7v1h-7zM240,773h7v1h-7zM240,774h7v1h-7zM241,775h6v1h-6zM242,776h4v1h-4zM256,770h3v1h-3zM255,771h5v1h-5zM254,772h7v1h-7zM254,773h7v1h-7zM254,774h7v1h-7zM255,775h6v1h-6zM256,776h4v1h-4z" fill="#008000" shape-rendering="crispEdges"/>
<text x="268.6" y="778" font-family="Liberation Sans" font-size="12" textLength="74.2" fill="#000" stroke="#000" stroke-width="0.1">50% percentil</text>
<rect x="368" y="773" width="36" height="1" fill="#000000" shape-rendering="crispEdges"/>
<path d="M371,770h3v1h-3zM370,771h5v1h-5zM369,772h7v1h-7zM369,773h7v1h-7zM369,774h7v1h-7zM370,775h6v1h-6zM371,776h4v1h-4zM385,770h3v1h-3zM384,771h5v1h-5zM383,772h7v1h-7zM383,773h7v1h-7zM383,774h7v1h-7zM384,775h6v1h-6zM385,776h4v1h-4zM399,770h3v1h-3zM398,771h5v1h-5zM397,772h7v1h-7zM397,773h7v1h-7zM397,774h7v1h-7zM398,775h6v1h-6zM399,776h4v1h-4z" fill="#000000" shape-rendering="crispEdges"/>
<text x="410.3" y="778" font-family="Liberation Sans" font-size="12" textLength="74.2" fill="#000" stroke="#000" stroke-width="0.1">60% percentil</text>
<rect x="510" y="773" width="36" height="1" fill="#0000ff" shape-rendering="crispEdges"/>
<path d="M513,770h3v1h-3zM512,771h5v1h-5zM511,772h7v1h-7zM511,773h7v1h-7zM511,774h7v1h-7zM512,775h6v1h-6zM513,776h4v1h-4zM527,770h3v1h-3zM526,771h5v1h-5zM525,772h7v1h-7zM525,773h7v1h-7zM525,774h7v1h-7zM526,775h6v1h-6zM527,776h4v1h-4zM541,770h3v1h-3zM540,771h5v1h-5zM539,772h7v1h-7zM539,773h7v1h-7zM539,774h7v1h-7zM540,775h6v1h-6zM541,776h4v1h-4z" fill="#0000ff" shape-rendering="crispEdges"/>
<text x="552.4" y="778" font-family="Liberation Sans" font-size="12" textLength="74.2" fill="#000" stroke="#000" stroke-width="0.1">70% percentil</text>
<rect x="653" y="773" width="36" height="1" fill="#9acd32" shape-rendering="crispEdges"/>
<path d="M655,770h3v1h-3zM654,771h5v1h-5zM653,772h7v1h-7zM653,773h7v1h-7zM653,774h7v1h-7zM654,775h6v1h-6zM655,776h4v1h-4zM669,770h3v1h-3zM668,771h5v1h-5zM667,772h7v1h-7zM667,773h7v1h-7zM667,774h7v1h-7zM668,775h6v1h-6zM669,776h4v1h-4zM683,770h3v1h-3zM682,771h5v1h-5zM681,772h7v1h-7zM681,773h7v1h-7zM681,774h7v1h-7zM682,775h6v1h-6zM683,776h4v1h-4z" fill="#9acd32" shape-rendering="crispEdges"/>
<text x="695.5" y="778" font-family="Liberation Sans" font-size="12" textLength="74.2" fill="#000" stroke="#000" stroke-width="0.1">80% percentil</text>
<rect x="795" y="773" width="36" height="1" fill="#ffe0c0" shape-rendering="crispEdges"/>
<path d="M797,770h3v1h-3zM796,771h5v1h-5zM795,772h7v1h-7zM795,773h7v1h-7zM795,774h7v1h-7zM796,775h6v1h-6zM797,776h4v1h-4zM811,770h3v1h-3zM810,771h5v1h-5zM809,772h7v1h-7zM809,773h7v1h-7zM809,774h7v1h-7zM810,775h6v1h-6zM811,776h4v1h-4zM825,770h3v1h-3zM824,771h5v1h-5zM823,772h7v1h-7zM823,773h7v1h-7zM823,774h7v1h-7zM824,775h6v1h-6zM825,776h4v1h-4z" fill="#ffe0c0" shape-rendering="crispEdges"/>
<text x="837.8" y="778" font-family="Liberation Sans" font-size="12" textLength="74.2" fill="#000" stroke="#000" stroke-width="0.1">90% percentil</text>
</svg>
</body></html>
